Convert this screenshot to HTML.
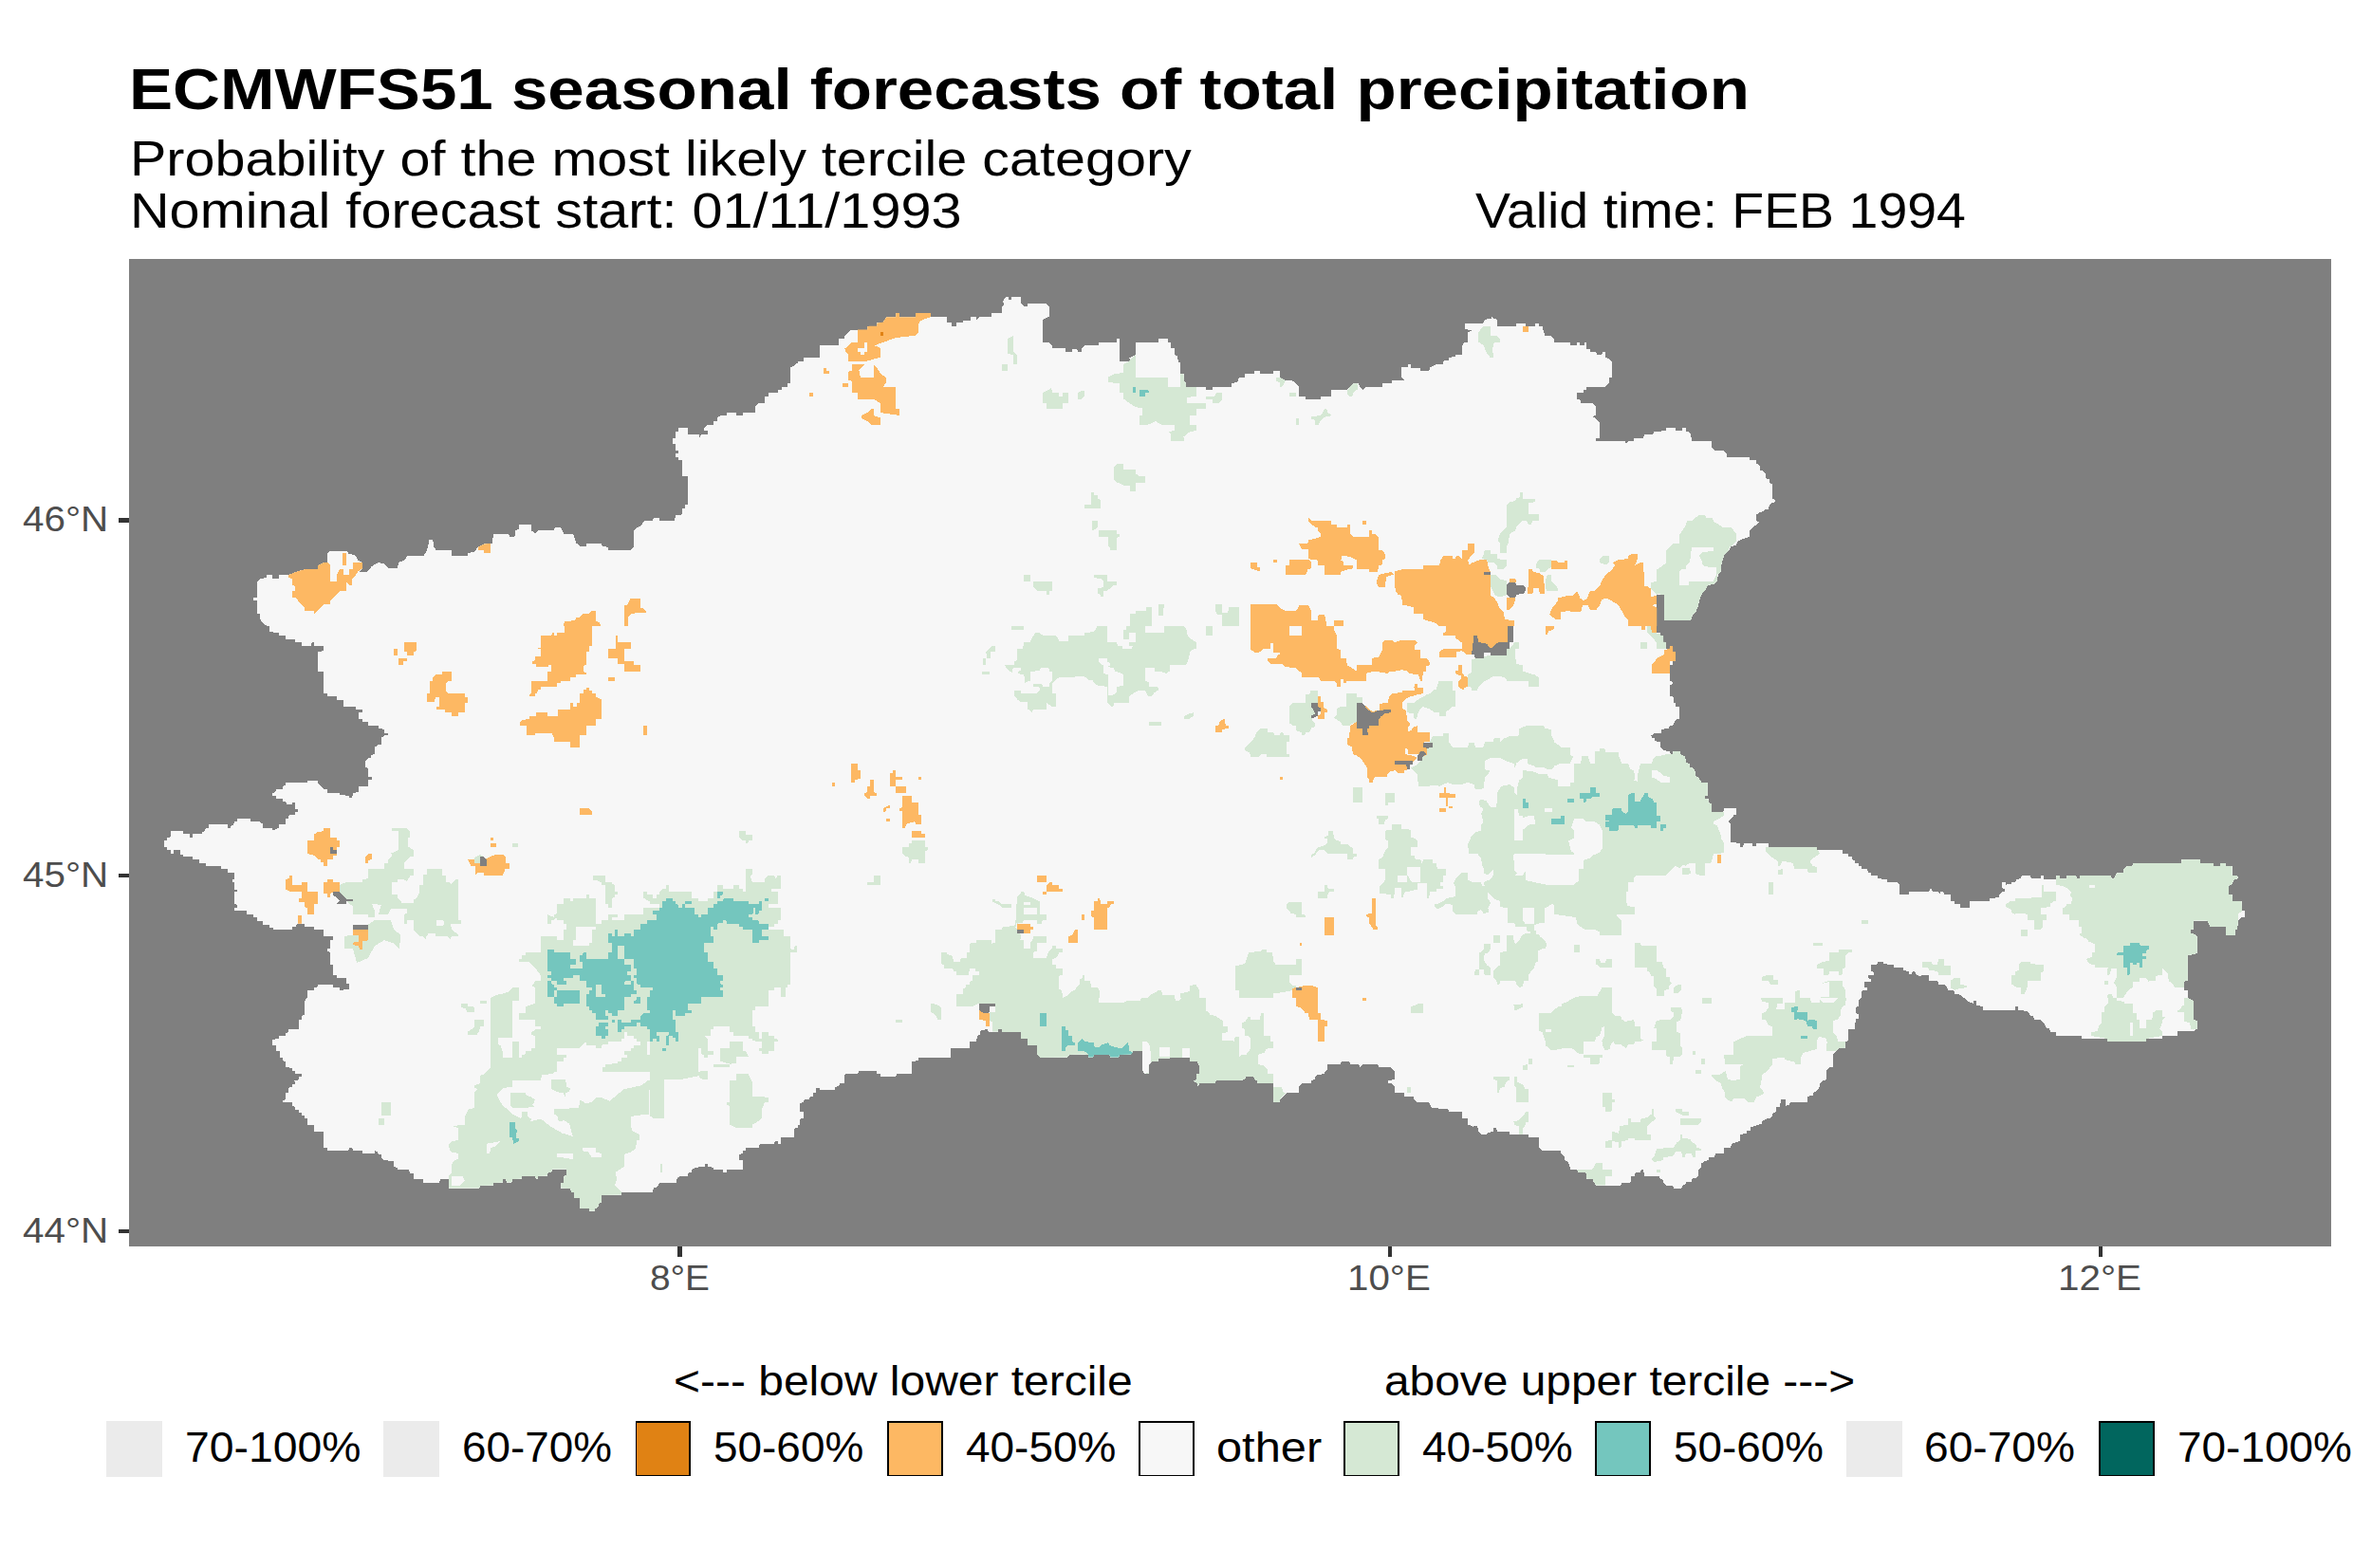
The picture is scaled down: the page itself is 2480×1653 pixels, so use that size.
<!DOCTYPE html>
<html><head><meta charset="utf-8"><style>
html,body{margin:0;padding:0;background:#fff;}
body{width:2480px;height:1653px;position:relative;overflow:hidden;font-family:"Liberation Sans",sans-serif;}
.t{position:absolute;white-space:nowrap;line-height:1;transform-origin:0 0;}
</style></head><body>
<svg width="2480" height="1653" viewBox="0 0 2480 1653" style="position:absolute;left:0;top:0" shape-rendering="crispEdges"><defs><clipPath id="m"><polygon points="281.2,660 277.5,656.8 274.2,653 274.2,646.8 271.2,646.8 271.2,633 267,633 267,630 271.2,630 271.2,613 271.2,613 274.2,610 281.2,609.2 281.2,606 287,606 287,609.5 294.2,609.5 294.2,606 304.2,606 311.2,603 321.2,600 335,600 335,596 341.2,593 345,593 345,583 348,580.5 365,580.5 367.5,583.5 375,586 377.5,590.5 382,593 382,599.2 378.8,602.5 387.5,602.5 392,596.8 398.8,593 405,594.2 409.5,599.2 418.8,599.2 420,593 426.2,590.5 429.5,586 446.2,586 450,580.5 452.5,569.2 456.2,569.2 457.5,576.8 459.5,580 475.8,580 476.2,586 493,586 493,583 500,581.8 503.8,576.8 510,573.5 518.8,572.5 520,563 536.2,563 537.5,565.5 542.5,565.5 543,559.2 547,558 547,553 560,553 560,559.2 564.5,562.5 567,559.2 583.8,559.2 585,556 591.2,556 594.5,562.5 604.2,563 607.5,572.5 611.2,576 617.5,576 618,573 633.8,573 635,576 641.2,576.8 641.2,580 665,580 668,576.8 668,559.2 671.2,556 675,555 678.8,549.2 688,548.5 688.8,546 695,546 695.5,548.5 711.2,548.5 712,542.5 718,542.5 718.8,541.9 718.8,536 721.9,536 721.9,531.8 724.9,531.8 724.9,502 718.8,502 718.8,484.9 715.2,484.7 715.2,482.1 711.9,481.8 711.9,478.5 715,478.3 715,475.2 711.9,475.2 711.9,468.1 709,468 709,461.9 711.9,461.8 711.9,454.9 715,454.7 715,451.1 724.9,451.1 718,450.5 725,450.5 725,457.5 736.8,457.5 736.8,461.8 739.2,458 745.5,457.5 745.5,454.2 742.2,454.2 742.2,451.2 745.5,447.5 751.8,447.5 752.2,444.2 756,444.2 756,440.5 759.2,438 766,438 766,435 775.5,435 776,438 783,438 783,435 796,435 796,428 800,425 806,425 806,418 810,418 810,414.2 820,414.2 820,411 823.5,411 823.5,408 830,408 830,404.2 833,404.2 833,387.5 836.8,385.5 840.5,382.5 840.5,380.5 847.2,380.5 847.2,376.8 864.2,376.8 864.2,363.8 884.2,363.8 884.2,356.8 890,356.8 890.5,354.2 894.2,350.5 897.5,347.5 904.2,347.5 914.2,347.5 914.2,343.8 924.2,343.8 924.2,340.5 930.5,339.8 934.2,334.2 944.2,334.2 944.2,330 948,330 948,334.2 965,334.2 965,330 981,330 981,334.2 997.5,334.2 998,340 1002.5,340.5 1002.5,343.8 1008,343.8 1008,340 1015,340 1015,337.5 1022.5,337.5 1022.5,334.2 1029.2,334.2 1029.2,336.8 1032.5,334.2 1045,334.2 1045,330 1056,330 1056,323 1058.5,320.5 1056.8,317.5 1060,313 1062.5,313 1062.5,316.8 1066.2,315.5 1066.2,313 1075.5,313 1076,319.2 1079.2,322.5 1083,322.5 1083,320 1102.5,320 1106,323 1106,333.5 1103,335 1099.2,336.8 1099.2,360.5 1105.5,361 1108.8,364.2 1108.8,366.8 1123,366.8 1123,370.5 1130,370.5 1130,367.5 1135,367.5 1136,370.5 1140,370.5 1140,367.5 1143,364.2 1157.5,364.2 1157.5,361 1176.8,361 1177.2,356.8 1180,356.8 1180,380.5 1190.5,380.5 1190.5,377.5 1196.8,374.2 1196.8,361 1221,361 1221,356.8 1230.5,356.8 1230.5,360.5 1233.5,361 1234.2,366.8 1238,367.5 1238.5,374.2 1241,375 1241.8,381.8 1244.2,381.8 1244.2,394.2 1247.5,394.2 1248,401 1250,404.2 1250.5,408 1271,408 1271,411 1277.5,411 1278,408 1297.5,408 1297.5,404.2 1304.2,403 1306,398 1306,398 1312.2,398 1312.2,394.2 1322.2,394.2 1322.2,391 1328,391 1328,394.2 1342.2,394.2 1342.2,391 1348.5,391 1349,398 1354.8,401 1361.5,401 1366,404.2 1369,408 1369,417.5 1376,418 1376.5,420.5 1391.8,420.5 1392.2,418 1403,417.5 1403,411 1419.8,411 1422.2,408 1426.5,404.2 1432.2,404.2 1433,408 1436,411 1439.8,408 1457.2,408 1457.2,404.2 1467.2,404.2 1467.2,401 1479.8,400.5 1477.2,397.5 1477.2,387.5 1483.5,386.8 1483.5,384.2 1486.5,384.2 1487.2,387.5 1497.2,387.5 1497.2,390.5 1506.5,390.5 1507.2,387.5 1514,384.2 1521,383.5 1521.5,380.5 1527.2,380 1527.2,376.8 1534,376 1534,373.5 1541,373.5 1541,364.2 1543.5,361 1547.2,360.5 1547.2,350.5 1550.5,348.5 1547.2,347.5 1544,346.8 1544,340.5 1563.5,340.5 1564.8,336.8 1571.5,336 1572.2,334.2 1574,336 1578,336.8 1578,343.8 1598,343.8 1598,340.5 1608,340.5 1608,343.8 1618,343.8 1618,340.5 1621.5,340.5 1622.2,343.8 1625.5,344.2 1628.5,354.2 1634.8,354.2 1638,358 1638.5,361 1654.8,361 1655.5,364.2 1661.5,364.2 1662.2,361 1664.8,361 1665.5,364.2 1669.8,364.2 1669.8,361 1672.2,361 1672.2,367.5 1675.5,367.5 1676.5,370.5 1682.2,370.5 1683,373.5 1688.5,373.5 1689.8,370.5 1692.2,371 1692.2,376.8 1695.5,378 1698.5,381 1699,398 1695.5,398 1695.5,404.2 1692.2,407.5 1672.2,407.5 1671.5,411 1668.5,411 1668.5,413.5 1662.2,414.2 1662.2,420.5 1665.5,421.8 1666,425 1678.5,425 1681.5,428 1681.5,438 1679,439.2 1682.2,441.8 1686,445 1686,461.8 1682.2,462.5 1682.2,465 1713,465 1714,468 1716,465 1722.2,465 1722.2,461.8 1732.2,461.8 1733,458 1742.2,457.5 1743,455 1756,454.2 1756.5,451 1765.5,451 1766,454.2 1773,454.2 1773,451 1776.5,451 1777.2,455 1780.5,455.5 1782.2,458.5 1783,465 1803.5,465 1804,471.8 1807.2,475 1816,475 1819.8,478.5 1820.5,481.8 1843.5,481.8 1844,485 1851,485.5 1851.5,488.5 1854.8,491.8 1854.8,495.5 1858,496 1860.5,499.2 1861.5,504.2 1864.8,505.5 1864.8,509.2 1868,510 1868.5,525.5 1870.5,526.8 1870.5,529.2 1867.2,530.5 1864.8,533 1864,536.8 1861,536.8 1858.5,539.2 1854.8,540 1851.5,542.5 1851,549.2 1854,550 1851.5,553 1847.2,556 1844,559.2 1843.5,566 1841,566.8 1834,569.2 1831,571.8 1829.8,575 1824.8,576 1821,581.8 1817.2,585.5 1816,589.2 1814.8,593 1813.5,603 1811,605.5 1809.8,612.5 1806,616 1800.5,616.8 1797.2,622.5 1794,626 1791,633 1789.8,639.2 1787.2,645.5 1784,648 1782.25,654.25 1780,654 1750,654 1750,627 1746.4,627 1746.4,667.1 1750,667.1 1750,669.7 1753.1,670.2 1753.1,676.8 1755.9,677.1 1755.9,684 1759.7,684 1760.2,680.9 1763.1,680.9 1763.1,687 1766.1,687 1766.1,696.7 1763.3,697.3 1763.1,701.3 1760.2,701.3 1760.2,718 1763,718.8 1763,721.2 1759.8,722 1759.8,733.8 1763.5,734.5 1763.5,740.5 1766,741.2 1766.5,745 1769.8,745.5 1769.8,758 1766,758.8 1763,765 1759.8,765 1759,768 1750.5,768.8 1750.5,772.5 1743.5,773 1740.5,775.5 1740.5,777.5 1743.5,778 1744,781.2 1749.8,782 1750.5,787.5 1753.5,791.2 1759.8,792 1760.5,794.5 1763,795 1763.5,792 1770.5,792 1771.5,795 1776,797.5 1777.2,803.8 1780.5,805 1781,808.8 1784,809.5 1786.5,812.5 1787.2,818 1790.5,820 1793.5,824.5 1799.8,825 1799.8,838.8 1797.2,839.5 1797.2,842 1800.5,842.5 1801,846.2 1804,847 1804,855.5 1816.5,855.5 1817.2,852 1829.8,852 1829.8,858.8 1827.2,859.5 1824.8,863 1821,866.2 1824,868 1824,888 1834,888.8 1834,892.5 1837.2,892.5 1838,888.8 1846.5,888.8 1847.2,892.5 1850.5,892 1851,888.8 1863.5,888.8 1864,892.5 1894,892.5 1892,892.5 1915,893 1915,895.5 1941.5,896.2 1942,899.5 1947.5,900 1948.2,902.5 1952,903 1952,906.2 1955,907 1955,909.5 1959,910 1959.5,912.5 1962,913 1962.5,915.5 1968.2,916.2 1969,919.5 1972,920 1972.5,922.5 1979,923 1979.5,926.2 1989,927 1989.5,929.5 1999,930 2002,933 2002,942.5 2012,942.5 2012.5,939.5 2033.2,939.5 2034,937 2035.8,937 2036.5,939.5 2043.2,940 2044,942.5 2045.8,940 2048.2,940 2049,942.5 2055.8,943 2056.5,950 2060,950.5 2060,953 2065.8,953 2066.5,957 2075.8,957 2076.5,950 2097,949.5 2097.5,947 2107,946.2 2107.5,942.5 2110,940 2113.2,939.5 2113.2,937 2110,936.2 2110,930 2114,930 2114.5,932.5 2120,932 2120,929.5 2124.5,929.5 2125,927 2130,926.2 2130.8,923 2140,923 2140.8,926.2 2150.8,926.2 2151.5,923 2154,923 2154.5,927 2167,927 2167.5,923 2170.8,923 2171.5,926.2 2178.2,926.2 2178.2,923 2188.2,923 2189,925.5 2191.5,925.5 2191.5,923 2225,923 2225.8,926.2 2228.2,925.5 2230.8,920.5 2238.2,920 2238.2,916.2 2242,913 2247.5,912.5 2248.2,910 2299,910 2299.5,906.2 2319,906.2 2319,909.5 2333.2,910 2333.2,912.5 2339.5,912.5 2339.5,910 2345.8,910 2345.8,913 2352.5,913 2352.5,922.5 2358.2,923 2359,926.2 2355.8,927 2353.2,930 2352,933 2349,933.8 2349,942.5 2352.5,943 2353.2,950 2362.5,950 2363.2,960 2365.8,960.5 2365.8,967 2362,967.5 2359,970.5 2358.2,980 2355.8,980.5 2355.8,986.2 2345.8,986.2 2345.8,977.5 2329,977 2328.2,973.8 2325.8,970.5 2312,970.5 2312,979.5 2309,980 2309.5,983.8 2312.5,984.5 2315.8,987.5 2315.8,1004.5 2312,1006.2 2305.8,1007 2305.8,1033.8 2302.5,1034.5 2302,1043.8 2305.8,1044.5 2305.8,1052 2305.8,1052 2312,1055 2312,1075 2315.8,1075.8 2315.8,1084.5 2312,1087 2295,1087.5 2294.5,1091.5 2279,1092 2279,1094.5 2262,1095 2262,1098.2 2220.8,1098.2 2220.8,1095 2194,1094.5 2194,1091.5 2167,1091.5 2167,1088.2 2160.8,1087.5 2160,1084.5 2157,1084 2154,1078.2 2150.8,1075 2144,1074.5 2143.2,1071.5 2140,1070.8 2137,1065.8 2127,1065 2126.5,1060.8 2124.5,1060.8 2124,1064.5 2090,1064.5 2089.5,1060.8 2083.2,1060 2082.5,1055 2080,1055 2079.5,1057.5 2076.5,1057 2072.5,1054.5 2070,1052 2069.5,1052 2066.5,1048.8 2060,1047.5 2059.5,1044.5 2053.2,1043.8 2052,1040.5 2049,1038 2043.2,1037.5 2042.5,1034.5 2033.2,1033.8 2032.5,1028 2025.8,1027.5 2025,1029.5 2022,1028.8 2019,1026.2 2018.2,1023.8 2015.8,1023.8 2015,1027.5 2012,1027 2011.5,1023.8 2005.8,1023 2005.8,1020.5 1996.5,1020 1995.8,1017 1985,1016.2 1984.5,1013.8 1979,1013.8 1978.2,1017 1972,1017.5 1972,1023.8 1974.5,1024.5 1974.5,1027.5 1969.5,1028 1969,1031.2 1971.5,1032 1971.5,1034.5 1965,1034.5 1965,1040.5 1968.2,1041.2 1968.2,1043.8 1962.5,1044.5 1962,1052 1962,1052 1959,1054.5 1959,1060.8 1955.8,1062 1955.8,1068.2 1959,1069 1959,1074 1955.8,1074.5 1955,1084.5 1948.2,1085 1947.5,1097.5 1945,1098.2 1944.5,1105 1938.2,1105 1935,1108.2 1932,1112 1932,1124.5 1928.2,1125 1925,1129 1925,1138.2 1921.5,1139 1918.2,1142 1917.5,1146.5 1915,1149.5 1911.5,1152 1910.8,1155 1905,1155.8 1905,1161.5 1892,1162 1894,1162 1887.2,1162 1886,1164.5 1882.2,1165.8 1881.5,1159 1877.2,1159 1876,1166.5 1872.2,1167.5 1871.5,1172 1868,1174.5 1867.2,1178.2 1863.5,1179 1857.2,1182 1856.5,1185 1852.2,1185.8 1849.8,1187 1845.5,1188.2 1844.8,1191.5 1841.5,1192 1841,1195 1834,1195.8 1833.5,1203.2 1827.2,1205 1824.8,1206.5 1824,1209.5 1817.2,1210 1816.5,1215.8 1808,1216.5 1807.2,1219.5 1801,1220 1800.5,1223.2 1797.2,1224 1793.5,1226.5 1793,1230 1790.5,1232.5 1789.8,1239.5 1787.2,1242 1783.5,1242.5 1783,1245.8 1777.2,1246.5 1776.5,1248.2 1773,1250 1772.2,1252.5 1764,1252.5 1763,1250 1756,1249.5 1753.5,1247 1753,1244 1749.8,1242.5 1748.5,1240 1733,1240 1732.2,1233.2 1729.8,1233.2 1729,1235.8 1723.5,1236.5 1723,1239.5 1719,1240 1718.5,1246.5 1709,1247 1708.5,1249.5 1682.2,1249.5 1679.8,1246.5 1678.5,1243.2 1672.2,1242.5 1671.5,1236.5 1663,1235.8 1662.2,1233.2 1655.5,1232.5 1652.2,1224 1649,1223.2 1648.5,1219 1645.5,1215.8 1644.8,1213.2 1625.5,1212.5 1622.2,1210 1621.5,1199.5 1611,1199 1610.5,1195.8 1591.5,1195.8 1591,1193.2 1578,1193.2 1577.2,1189 1574,1189.5 1573.5,1193.2 1568,1194 1567.2,1195.8 1561,1195.8 1558,1192 1557.2,1186.5 1554,1186.5 1552.2,1188.2 1550.5,1186.5 1547.2,1185.8 1546.5,1179.5 1541,1179 1540.5,1172 1527.2,1172 1526,1169 1509.8,1168.2 1507.2,1165 1506,1162 1493.5,1162 1490.5,1159 1489.8,1156.5 1480.5,1155.8 1479.8,1152.5 1469.8,1152 1469.8,1145.8 1466.5,1142.5 1463,1141.5 1463,1139 1469.8,1138.2 1469.8,1129 1466,1125 1453.5,1125 1452.2,1122 1436,1122 1433.5,1125 1432.2,1122.5 1423,1122 1422.2,1119 1414,1119 1413,1122 1399,1122.5 1399,1127.5 1396.5,1129.5 1395.5,1132 1389,1133.2 1386,1135 1385.5,1138.2 1382.2,1139 1381.5,1142 1372.2,1142.5 1369,1145.8 1368.5,1152 1355.5,1152.5 1352.2,1156.5 1349.8,1158.2 1348.5,1162 1342.2,1162 1341.5,1142 1325.5,1142 1324.8,1139.5 1322.2,1138.2 1321,1135 1313,1135 1312.2,1138.2 1306,1139 1306,1139 1281.8,1139.5 1281,1142 1264.2,1142.5 1262.5,1145 1261.8,1142.5 1258,1139.5 1260.5,1138.2 1261,1132.5 1263.5,1131.5 1263.5,1122.5 1261.8,1119.5 1254.2,1119 1253.5,1115 1221,1115.8 1220.5,1119 1214.2,1119.5 1211,1122.5 1210.5,1132 1206.8,1132 1204.2,1129 1203.5,1108.2 1194.2,1108.2 1192.5,1111.5 1180,1112 1179.2,1114.5 1170.5,1114.5 1169.2,1112 1153,1112 1152.5,1114.5 1147.5,1114.5 1146.8,1112.5 1143,1111.5 1126.8,1112 1125.5,1114.5 1096,1115 1093,1111.5 1092.5,1102 1083,1102 1082.5,1095 1076,1095 1075.5,1088.2 1056,1088.2 1055.5,1085 1052.5,1085 1051.8,1087.5 1041.8,1087.5 1041,1085 1035.5,1085.8 1033,1087.5 1032.5,1090.8 1030,1092 1029.2,1097.5 1022.5,1098.2 1021.8,1104.5 1002.5,1105 1001.8,1114.5 968.5,1115 968,1118.2 961,1119 961,1132 945,1132.5 944.2,1135 928.5,1135 928,1132.5 924.2,1132 923.5,1129 905,1129 904.2,1132 890.5,1132.5 890,1141.5 885,1142 884.2,1145 880.5,1145.8 880,1149 864.2,1149 863.5,1146.5 860.5,1146.5 860,1151.5 857.5,1152 856.8,1155.8 853.5,1156.5 853,1159 847.5,1159.5 846.8,1162 843,1163.2 843,1172 846.8,1172.5 846.8,1179 843.5,1179.5 843,1185.8 841,1185.8 840.5,1189 837.5,1189.5 836.8,1199 823.5,1199 823,1205.8 820.5,1205.8 820,1203.2 816.8,1203.2 816,1205.8 800.5,1206.5 800,1209.5 786,1210 786,1212.5 783,1213.2 782.5,1215.8 779.2,1217 779.2,1222.5 783,1223.2 783,1232.5 766,1233.2 765.5,1235.8 762.5,1235.8 761.8,1232.5 752.5,1232.5 751.8,1230.8 746,1230 745.5,1226.5 743,1226.5 742.5,1230 732.5,1230.8 729.2,1233.2 729.2,1235.8 725.5,1236.5 725,1239.5 718,1240 718,1240 715,1240.8 713,1243.2 712.5,1247 695.5,1247 692.5,1251.5 688.8,1252 688,1256.5 655.5,1257 655,1259.5 634.5,1260 633.8,1267.5 631.2,1269.5 630,1273.2 627.5,1274 627,1276.5 621.2,1276.5 620.5,1274 611.2,1274 610.5,1263.2 605,1263.2 604.5,1257.5 602,1257 601.2,1253.2 591.2,1252.5 591.2,1247 593.8,1246.5 594.5,1239.5 597,1239 597,1232.5 582,1232.5 581.2,1235.8 577.5,1236.5 577,1239.5 567.5,1240 567,1242.5 564.5,1242.5 563.8,1240 550.5,1240 550,1242.5 540,1243.2 539.5,1246.5 533.8,1246.5 533,1243.2 530.5,1243.2 530,1246.5 520.5,1247 520,1249.5 506.2,1250 505.5,1252.5 473,1252.5 472.5,1243.2 463.8,1243.2 463,1247 446.2,1247 445.5,1243.2 436.2,1243.2 435.5,1237 432,1236.5 431.2,1233.2 419.5,1233.2 418.8,1230.8 415,1230 414.5,1224 405,1223.2 402.5,1220.8 402,1217.5 398.8,1217 398,1214 395.5,1213.2 395,1215.8 382.5,1215.8 382,1213.2 372,1213.2 371.2,1210 368,1210 367.5,1212.5 345.5,1212.5 345,1210 341.2,1209.5 340.5,1193.2 331.2,1192.5 331.2,1186.5 324.5,1185.8 323.8,1179.5 321.2,1179 321.2,1176.5 318,1175.8 318,1173.2 315,1172.5 314.5,1170 311.2,1169.5 310.5,1166.5 308,1165.8 307.5,1162.5 298,1162 298,1160 301.2,1159 301.2,1152 303.8,1151.5 304.5,1146.5 307.5,1145.8 307.5,1143.2 310.5,1142.5 310.5,1139.5 314.5,1138.2 314.5,1135.8 318,1134.5 318,1132.5 311.2,1132 310.5,1129.5 308,1129 307.5,1125.8 301.2,1125 301.2,1119 298,1118.2 298,1115 294.5,1114.5 294.5,1108.2 291.2,1107.5 291.2,1102 287,1101.5 287,1095.8 293.8,1095 294.5,1092 301.2,1091.5 301.2,1089 303.8,1088.2 304.5,1085 314.5,1084.5 314.5,1075 318,1074.5 318,1070.8 321.2,1070 321.2,1055 323.8,1052 323.8,1052 324.5,1043.8 331.2,1043.8 331.2,1041.2 334.5,1040.5 335,1038 350.5,1038 350.5,1040.5 358,1040.5 358,1043.8 368,1043 368,1037.5 365,1037 365,1030.5 355,1030.5 355,1028 351.2,1027.5 350.5,1017.5 347.5,1017 347.5,1003.8 345,1003 345,1000.5 347.5,1000 347.5,991.2 350.5,990.5 350.5,987 341.2,987 341.2,980.5 331.2,980 331.2,977 321.2,977 321.2,973.8 313.8,973.8 311.2,977 308,977 308,980 287.5,980 287.5,978 283.8,977.5 283.8,974.5 277,974.5 277,970.5 271.2,970.5 271.2,967.5 267.5,967 267,963.8 260,963.8 260,960 247,960 247,957.5 249.5,957 249.5,953.8 247,953 247,940 249.5,939.5 249.5,938 247,937.5 247,930 244.5,929.5 244.5,927.5 247,927 247,920 240,919.5 240,916.2 233,915.5 232.5,913 217,913 217,910 210,909.5 210,906.2 203,906.2 202.5,902.5 193,902.5 193,901.2 190,900.5 189.5,896.2 183,896.2 183,899.5 180,899.5 180,896.2 176.2,895.5 176.2,893 173,892.5 173,886.2 176.2,886.2 176.2,883 179.5,882.5 180,876.2 192.5,876.2 192.5,878.8 199.5,879.2 200,882.5 202.5,882.5 202.5,878.8 212.5,878.8 212.5,877 216.2,876.2 216.2,873.8 220,872.5 220,868.8 240,868.8 240,872.5 243,872.5 243.8,870 246.2,870 247,866.2 250,866.2 250,863 263.8,863 263.8,865.5 273.8,866.2 277,868.8 277.5,872.5 287,872.5 287,875.5 290,874.5 293.8,872.5 294.5,868.8 301.2,868.8 301.2,863 303.8,863 304.5,859.5 310.5,858.8 310.5,856.2 313.8,856.2 313.8,853 311.2,852.5 310.5,846.2 308,845.5 308,848 302,848 301.2,845.5 298,845 297.5,842 291.2,842 291.2,838.8 287,838.8 287,836.2 290,835 291.2,832 298,832 298,828.8 301.2,828 301.2,825 323.8,825 324.5,822.5 335,822.5 335,825 338,828.8 341.2,832 345,832.5 345,836.2 358,836.2 358,838 368,838.8 368,841.2 371.2,841.2 372,836.2 378,835 378,828.8 388,828.8 388,822 392,822 392,819.5 388,818.8 387.5,809.5 385,808.8 385,802 387.5,799.5 391.2,798.8 391.2,796.2 395,795 395,787.5 398.8,785 402,785 402,777.5 405,775.5 408.8,775 408.8,773 405,772.5 405,768.8 398.8,768 398.8,765 387.5,765 387.5,761.2 382,761.2 382,758 378,757.5 378,751.2 382,750.5 382,748 375,747.5 375,745 362,745 362,737.5 355,737.5 355,733.8 345.5,733.8 345,731.2 341.2,731.2 341.2,708 335,708 335,687 341.2,686.2 341.2,681.2 331.2,681.2 331.2,677 328.8,677 328,680.5 318,680.5 318,677 311.2,677 310.5,673.8 301.2,673.8 301.2,670 294.5,670 293.8,667 283.8,666.2 283.8,660"/></clipPath></defs><rect x="136" y="273" width="2321" height="1041" fill="#7F7F7F"/><polygon points="281.2,660 277.5,656.8 274.2,653 274.2,646.8 271.2,646.8 271.2,633 267,633 267,630 271.2,630 271.2,613 271.2,613 274.2,610 281.2,609.2 281.2,606 287,606 287,609.5 294.2,609.5 294.2,606 304.2,606 311.2,603 321.2,600 335,600 335,596 341.2,593 345,593 345,583 348,580.5 365,580.5 367.5,583.5 375,586 377.5,590.5 382,593 382,599.2 378.8,602.5 387.5,602.5 392,596.8 398.8,593 405,594.2 409.5,599.2 418.8,599.2 420,593 426.2,590.5 429.5,586 446.2,586 450,580.5 452.5,569.2 456.2,569.2 457.5,576.8 459.5,580 475.8,580 476.2,586 493,586 493,583 500,581.8 503.8,576.8 510,573.5 518.8,572.5 520,563 536.2,563 537.5,565.5 542.5,565.5 543,559.2 547,558 547,553 560,553 560,559.2 564.5,562.5 567,559.2 583.8,559.2 585,556 591.2,556 594.5,562.5 604.2,563 607.5,572.5 611.2,576 617.5,576 618,573 633.8,573 635,576 641.2,576.8 641.2,580 665,580 668,576.8 668,559.2 671.2,556 675,555 678.8,549.2 688,548.5 688.8,546 695,546 695.5,548.5 711.2,548.5 712,542.5 718,542.5 718.8,541.9 718.8,536 721.9,536 721.9,531.8 724.9,531.8 724.9,502 718.8,502 718.8,484.9 715.2,484.7 715.2,482.1 711.9,481.8 711.9,478.5 715,478.3 715,475.2 711.9,475.2 711.9,468.1 709,468 709,461.9 711.9,461.8 711.9,454.9 715,454.7 715,451.1 724.9,451.1 718,450.5 725,450.5 725,457.5 736.8,457.5 736.8,461.8 739.2,458 745.5,457.5 745.5,454.2 742.2,454.2 742.2,451.2 745.5,447.5 751.8,447.5 752.2,444.2 756,444.2 756,440.5 759.2,438 766,438 766,435 775.5,435 776,438 783,438 783,435 796,435 796,428 800,425 806,425 806,418 810,418 810,414.2 820,414.2 820,411 823.5,411 823.5,408 830,408 830,404.2 833,404.2 833,387.5 836.8,385.5 840.5,382.5 840.5,380.5 847.2,380.5 847.2,376.8 864.2,376.8 864.2,363.8 884.2,363.8 884.2,356.8 890,356.8 890.5,354.2 894.2,350.5 897.5,347.5 904.2,347.5 914.2,347.5 914.2,343.8 924.2,343.8 924.2,340.5 930.5,339.8 934.2,334.2 944.2,334.2 944.2,330 948,330 948,334.2 965,334.2 965,330 981,330 981,334.2 997.5,334.2 998,340 1002.5,340.5 1002.5,343.8 1008,343.8 1008,340 1015,340 1015,337.5 1022.5,337.5 1022.5,334.2 1029.2,334.2 1029.2,336.8 1032.5,334.2 1045,334.2 1045,330 1056,330 1056,323 1058.5,320.5 1056.8,317.5 1060,313 1062.5,313 1062.5,316.8 1066.2,315.5 1066.2,313 1075.5,313 1076,319.2 1079.2,322.5 1083,322.5 1083,320 1102.5,320 1106,323 1106,333.5 1103,335 1099.2,336.8 1099.2,360.5 1105.5,361 1108.8,364.2 1108.8,366.8 1123,366.8 1123,370.5 1130,370.5 1130,367.5 1135,367.5 1136,370.5 1140,370.5 1140,367.5 1143,364.2 1157.5,364.2 1157.5,361 1176.8,361 1177.2,356.8 1180,356.8 1180,380.5 1190.5,380.5 1190.5,377.5 1196.8,374.2 1196.8,361 1221,361 1221,356.8 1230.5,356.8 1230.5,360.5 1233.5,361 1234.2,366.8 1238,367.5 1238.5,374.2 1241,375 1241.8,381.8 1244.2,381.8 1244.2,394.2 1247.5,394.2 1248,401 1250,404.2 1250.5,408 1271,408 1271,411 1277.5,411 1278,408 1297.5,408 1297.5,404.2 1304.2,403 1306,398 1306,398 1312.2,398 1312.2,394.2 1322.2,394.2 1322.2,391 1328,391 1328,394.2 1342.2,394.2 1342.2,391 1348.5,391 1349,398 1354.8,401 1361.5,401 1366,404.2 1369,408 1369,417.5 1376,418 1376.5,420.5 1391.8,420.5 1392.2,418 1403,417.5 1403,411 1419.8,411 1422.2,408 1426.5,404.2 1432.2,404.2 1433,408 1436,411 1439.8,408 1457.2,408 1457.2,404.2 1467.2,404.2 1467.2,401 1479.8,400.5 1477.2,397.5 1477.2,387.5 1483.5,386.8 1483.5,384.2 1486.5,384.2 1487.2,387.5 1497.2,387.5 1497.2,390.5 1506.5,390.5 1507.2,387.5 1514,384.2 1521,383.5 1521.5,380.5 1527.2,380 1527.2,376.8 1534,376 1534,373.5 1541,373.5 1541,364.2 1543.5,361 1547.2,360.5 1547.2,350.5 1550.5,348.5 1547.2,347.5 1544,346.8 1544,340.5 1563.5,340.5 1564.8,336.8 1571.5,336 1572.2,334.2 1574,336 1578,336.8 1578,343.8 1598,343.8 1598,340.5 1608,340.5 1608,343.8 1618,343.8 1618,340.5 1621.5,340.5 1622.2,343.8 1625.5,344.2 1628.5,354.2 1634.8,354.2 1638,358 1638.5,361 1654.8,361 1655.5,364.2 1661.5,364.2 1662.2,361 1664.8,361 1665.5,364.2 1669.8,364.2 1669.8,361 1672.2,361 1672.2,367.5 1675.5,367.5 1676.5,370.5 1682.2,370.5 1683,373.5 1688.5,373.5 1689.8,370.5 1692.2,371 1692.2,376.8 1695.5,378 1698.5,381 1699,398 1695.5,398 1695.5,404.2 1692.2,407.5 1672.2,407.5 1671.5,411 1668.5,411 1668.5,413.5 1662.2,414.2 1662.2,420.5 1665.5,421.8 1666,425 1678.5,425 1681.5,428 1681.5,438 1679,439.2 1682.2,441.8 1686,445 1686,461.8 1682.2,462.5 1682.2,465 1713,465 1714,468 1716,465 1722.2,465 1722.2,461.8 1732.2,461.8 1733,458 1742.2,457.5 1743,455 1756,454.2 1756.5,451 1765.5,451 1766,454.2 1773,454.2 1773,451 1776.5,451 1777.2,455 1780.5,455.5 1782.2,458.5 1783,465 1803.5,465 1804,471.8 1807.2,475 1816,475 1819.8,478.5 1820.5,481.8 1843.5,481.8 1844,485 1851,485.5 1851.5,488.5 1854.8,491.8 1854.8,495.5 1858,496 1860.5,499.2 1861.5,504.2 1864.8,505.5 1864.8,509.2 1868,510 1868.5,525.5 1870.5,526.8 1870.5,529.2 1867.2,530.5 1864.8,533 1864,536.8 1861,536.8 1858.5,539.2 1854.8,540 1851.5,542.5 1851,549.2 1854,550 1851.5,553 1847.2,556 1844,559.2 1843.5,566 1841,566.8 1834,569.2 1831,571.8 1829.8,575 1824.8,576 1821,581.8 1817.2,585.5 1816,589.2 1814.8,593 1813.5,603 1811,605.5 1809.8,612.5 1806,616 1800.5,616.8 1797.2,622.5 1794,626 1791,633 1789.8,639.2 1787.2,645.5 1784,648 1782.25,654.25 1780,654 1750,654 1750,627 1746.4,627 1746.4,667.1 1750,667.1 1750,669.7 1753.1,670.2 1753.1,676.8 1755.9,677.1 1755.9,684 1759.7,684 1760.2,680.9 1763.1,680.9 1763.1,687 1766.1,687 1766.1,696.7 1763.3,697.3 1763.1,701.3 1760.2,701.3 1760.2,718 1763,718.8 1763,721.2 1759.8,722 1759.8,733.8 1763.5,734.5 1763.5,740.5 1766,741.2 1766.5,745 1769.8,745.5 1769.8,758 1766,758.8 1763,765 1759.8,765 1759,768 1750.5,768.8 1750.5,772.5 1743.5,773 1740.5,775.5 1740.5,777.5 1743.5,778 1744,781.2 1749.8,782 1750.5,787.5 1753.5,791.2 1759.8,792 1760.5,794.5 1763,795 1763.5,792 1770.5,792 1771.5,795 1776,797.5 1777.2,803.8 1780.5,805 1781,808.8 1784,809.5 1786.5,812.5 1787.2,818 1790.5,820 1793.5,824.5 1799.8,825 1799.8,838.8 1797.2,839.5 1797.2,842 1800.5,842.5 1801,846.2 1804,847 1804,855.5 1816.5,855.5 1817.2,852 1829.8,852 1829.8,858.8 1827.2,859.5 1824.8,863 1821,866.2 1824,868 1824,888 1834,888.8 1834,892.5 1837.2,892.5 1838,888.8 1846.5,888.8 1847.2,892.5 1850.5,892 1851,888.8 1863.5,888.8 1864,892.5 1894,892.5 1892,892.5 1915,893 1915,895.5 1941.5,896.2 1942,899.5 1947.5,900 1948.2,902.5 1952,903 1952,906.2 1955,907 1955,909.5 1959,910 1959.5,912.5 1962,913 1962.5,915.5 1968.2,916.2 1969,919.5 1972,920 1972.5,922.5 1979,923 1979.5,926.2 1989,927 1989.5,929.5 1999,930 2002,933 2002,942.5 2012,942.5 2012.5,939.5 2033.2,939.5 2034,937 2035.8,937 2036.5,939.5 2043.2,940 2044,942.5 2045.8,940 2048.2,940 2049,942.5 2055.8,943 2056.5,950 2060,950.5 2060,953 2065.8,953 2066.5,957 2075.8,957 2076.5,950 2097,949.5 2097.5,947 2107,946.2 2107.5,942.5 2110,940 2113.2,939.5 2113.2,937 2110,936.2 2110,930 2114,930 2114.5,932.5 2120,932 2120,929.5 2124.5,929.5 2125,927 2130,926.2 2130.8,923 2140,923 2140.8,926.2 2150.8,926.2 2151.5,923 2154,923 2154.5,927 2167,927 2167.5,923 2170.8,923 2171.5,926.2 2178.2,926.2 2178.2,923 2188.2,923 2189,925.5 2191.5,925.5 2191.5,923 2225,923 2225.8,926.2 2228.2,925.5 2230.8,920.5 2238.2,920 2238.2,916.2 2242,913 2247.5,912.5 2248.2,910 2299,910 2299.5,906.2 2319,906.2 2319,909.5 2333.2,910 2333.2,912.5 2339.5,912.5 2339.5,910 2345.8,910 2345.8,913 2352.5,913 2352.5,922.5 2358.2,923 2359,926.2 2355.8,927 2353.2,930 2352,933 2349,933.8 2349,942.5 2352.5,943 2353.2,950 2362.5,950 2363.2,960 2365.8,960.5 2365.8,967 2362,967.5 2359,970.5 2358.2,980 2355.8,980.5 2355.8,986.2 2345.8,986.2 2345.8,977.5 2329,977 2328.2,973.8 2325.8,970.5 2312,970.5 2312,979.5 2309,980 2309.5,983.8 2312.5,984.5 2315.8,987.5 2315.8,1004.5 2312,1006.2 2305.8,1007 2305.8,1033.8 2302.5,1034.5 2302,1043.8 2305.8,1044.5 2305.8,1052 2305.8,1052 2312,1055 2312,1075 2315.8,1075.8 2315.8,1084.5 2312,1087 2295,1087.5 2294.5,1091.5 2279,1092 2279,1094.5 2262,1095 2262,1098.2 2220.8,1098.2 2220.8,1095 2194,1094.5 2194,1091.5 2167,1091.5 2167,1088.2 2160.8,1087.5 2160,1084.5 2157,1084 2154,1078.2 2150.8,1075 2144,1074.5 2143.2,1071.5 2140,1070.8 2137,1065.8 2127,1065 2126.5,1060.8 2124.5,1060.8 2124,1064.5 2090,1064.5 2089.5,1060.8 2083.2,1060 2082.5,1055 2080,1055 2079.5,1057.5 2076.5,1057 2072.5,1054.5 2070,1052 2069.5,1052 2066.5,1048.8 2060,1047.5 2059.5,1044.5 2053.2,1043.8 2052,1040.5 2049,1038 2043.2,1037.5 2042.5,1034.5 2033.2,1033.8 2032.5,1028 2025.8,1027.5 2025,1029.5 2022,1028.8 2019,1026.2 2018.2,1023.8 2015.8,1023.8 2015,1027.5 2012,1027 2011.5,1023.8 2005.8,1023 2005.8,1020.5 1996.5,1020 1995.8,1017 1985,1016.2 1984.5,1013.8 1979,1013.8 1978.2,1017 1972,1017.5 1972,1023.8 1974.5,1024.5 1974.5,1027.5 1969.5,1028 1969,1031.2 1971.5,1032 1971.5,1034.5 1965,1034.5 1965,1040.5 1968.2,1041.2 1968.2,1043.8 1962.5,1044.5 1962,1052 1962,1052 1959,1054.5 1959,1060.8 1955.8,1062 1955.8,1068.2 1959,1069 1959,1074 1955.8,1074.5 1955,1084.5 1948.2,1085 1947.5,1097.5 1945,1098.2 1944.5,1105 1938.2,1105 1935,1108.2 1932,1112 1932,1124.5 1928.2,1125 1925,1129 1925,1138.2 1921.5,1139 1918.2,1142 1917.5,1146.5 1915,1149.5 1911.5,1152 1910.8,1155 1905,1155.8 1905,1161.5 1892,1162 1894,1162 1887.2,1162 1886,1164.5 1882.2,1165.8 1881.5,1159 1877.2,1159 1876,1166.5 1872.2,1167.5 1871.5,1172 1868,1174.5 1867.2,1178.2 1863.5,1179 1857.2,1182 1856.5,1185 1852.2,1185.8 1849.8,1187 1845.5,1188.2 1844.8,1191.5 1841.5,1192 1841,1195 1834,1195.8 1833.5,1203.2 1827.2,1205 1824.8,1206.5 1824,1209.5 1817.2,1210 1816.5,1215.8 1808,1216.5 1807.2,1219.5 1801,1220 1800.5,1223.2 1797.2,1224 1793.5,1226.5 1793,1230 1790.5,1232.5 1789.8,1239.5 1787.2,1242 1783.5,1242.5 1783,1245.8 1777.2,1246.5 1776.5,1248.2 1773,1250 1772.2,1252.5 1764,1252.5 1763,1250 1756,1249.5 1753.5,1247 1753,1244 1749.8,1242.5 1748.5,1240 1733,1240 1732.2,1233.2 1729.8,1233.2 1729,1235.8 1723.5,1236.5 1723,1239.5 1719,1240 1718.5,1246.5 1709,1247 1708.5,1249.5 1682.2,1249.5 1679.8,1246.5 1678.5,1243.2 1672.2,1242.5 1671.5,1236.5 1663,1235.8 1662.2,1233.2 1655.5,1232.5 1652.2,1224 1649,1223.2 1648.5,1219 1645.5,1215.8 1644.8,1213.2 1625.5,1212.5 1622.2,1210 1621.5,1199.5 1611,1199 1610.5,1195.8 1591.5,1195.8 1591,1193.2 1578,1193.2 1577.2,1189 1574,1189.5 1573.5,1193.2 1568,1194 1567.2,1195.8 1561,1195.8 1558,1192 1557.2,1186.5 1554,1186.5 1552.2,1188.2 1550.5,1186.5 1547.2,1185.8 1546.5,1179.5 1541,1179 1540.5,1172 1527.2,1172 1526,1169 1509.8,1168.2 1507.2,1165 1506,1162 1493.5,1162 1490.5,1159 1489.8,1156.5 1480.5,1155.8 1479.8,1152.5 1469.8,1152 1469.8,1145.8 1466.5,1142.5 1463,1141.5 1463,1139 1469.8,1138.2 1469.8,1129 1466,1125 1453.5,1125 1452.2,1122 1436,1122 1433.5,1125 1432.2,1122.5 1423,1122 1422.2,1119 1414,1119 1413,1122 1399,1122.5 1399,1127.5 1396.5,1129.5 1395.5,1132 1389,1133.2 1386,1135 1385.5,1138.2 1382.2,1139 1381.5,1142 1372.2,1142.5 1369,1145.8 1368.5,1152 1355.5,1152.5 1352.2,1156.5 1349.8,1158.2 1348.5,1162 1342.2,1162 1341.5,1142 1325.5,1142 1324.8,1139.5 1322.2,1138.2 1321,1135 1313,1135 1312.2,1138.2 1306,1139 1306,1139 1281.8,1139.5 1281,1142 1264.2,1142.5 1262.5,1145 1261.8,1142.5 1258,1139.5 1260.5,1138.2 1261,1132.5 1263.5,1131.5 1263.5,1122.5 1261.8,1119.5 1254.2,1119 1253.5,1115 1221,1115.8 1220.5,1119 1214.2,1119.5 1211,1122.5 1210.5,1132 1206.8,1132 1204.2,1129 1203.5,1108.2 1194.2,1108.2 1192.5,1111.5 1180,1112 1179.2,1114.5 1170.5,1114.5 1169.2,1112 1153,1112 1152.5,1114.5 1147.5,1114.5 1146.8,1112.5 1143,1111.5 1126.8,1112 1125.5,1114.5 1096,1115 1093,1111.5 1092.5,1102 1083,1102 1082.5,1095 1076,1095 1075.5,1088.2 1056,1088.2 1055.5,1085 1052.5,1085 1051.8,1087.5 1041.8,1087.5 1041,1085 1035.5,1085.8 1033,1087.5 1032.5,1090.8 1030,1092 1029.2,1097.5 1022.5,1098.2 1021.8,1104.5 1002.5,1105 1001.8,1114.5 968.5,1115 968,1118.2 961,1119 961,1132 945,1132.5 944.2,1135 928.5,1135 928,1132.5 924.2,1132 923.5,1129 905,1129 904.2,1132 890.5,1132.5 890,1141.5 885,1142 884.2,1145 880.5,1145.8 880,1149 864.2,1149 863.5,1146.5 860.5,1146.5 860,1151.5 857.5,1152 856.8,1155.8 853.5,1156.5 853,1159 847.5,1159.5 846.8,1162 843,1163.2 843,1172 846.8,1172.5 846.8,1179 843.5,1179.5 843,1185.8 841,1185.8 840.5,1189 837.5,1189.5 836.8,1199 823.5,1199 823,1205.8 820.5,1205.8 820,1203.2 816.8,1203.2 816,1205.8 800.5,1206.5 800,1209.5 786,1210 786,1212.5 783,1213.2 782.5,1215.8 779.2,1217 779.2,1222.5 783,1223.2 783,1232.5 766,1233.2 765.5,1235.8 762.5,1235.8 761.8,1232.5 752.5,1232.5 751.8,1230.8 746,1230 745.5,1226.5 743,1226.5 742.5,1230 732.5,1230.8 729.2,1233.2 729.2,1235.8 725.5,1236.5 725,1239.5 718,1240 718,1240 715,1240.8 713,1243.2 712.5,1247 695.5,1247 692.5,1251.5 688.8,1252 688,1256.5 655.5,1257 655,1259.5 634.5,1260 633.8,1267.5 631.2,1269.5 630,1273.2 627.5,1274 627,1276.5 621.2,1276.5 620.5,1274 611.2,1274 610.5,1263.2 605,1263.2 604.5,1257.5 602,1257 601.2,1253.2 591.2,1252.5 591.2,1247 593.8,1246.5 594.5,1239.5 597,1239 597,1232.5 582,1232.5 581.2,1235.8 577.5,1236.5 577,1239.5 567.5,1240 567,1242.5 564.5,1242.5 563.8,1240 550.5,1240 550,1242.5 540,1243.2 539.5,1246.5 533.8,1246.5 533,1243.2 530.5,1243.2 530,1246.5 520.5,1247 520,1249.5 506.2,1250 505.5,1252.5 473,1252.5 472.5,1243.2 463.8,1243.2 463,1247 446.2,1247 445.5,1243.2 436.2,1243.2 435.5,1237 432,1236.5 431.2,1233.2 419.5,1233.2 418.8,1230.8 415,1230 414.5,1224 405,1223.2 402.5,1220.8 402,1217.5 398.8,1217 398,1214 395.5,1213.2 395,1215.8 382.5,1215.8 382,1213.2 372,1213.2 371.2,1210 368,1210 367.5,1212.5 345.5,1212.5 345,1210 341.2,1209.5 340.5,1193.2 331.2,1192.5 331.2,1186.5 324.5,1185.8 323.8,1179.5 321.2,1179 321.2,1176.5 318,1175.8 318,1173.2 315,1172.5 314.5,1170 311.2,1169.5 310.5,1166.5 308,1165.8 307.5,1162.5 298,1162 298,1160 301.2,1159 301.2,1152 303.8,1151.5 304.5,1146.5 307.5,1145.8 307.5,1143.2 310.5,1142.5 310.5,1139.5 314.5,1138.2 314.5,1135.8 318,1134.5 318,1132.5 311.2,1132 310.5,1129.5 308,1129 307.5,1125.8 301.2,1125 301.2,1119 298,1118.2 298,1115 294.5,1114.5 294.5,1108.2 291.2,1107.5 291.2,1102 287,1101.5 287,1095.8 293.8,1095 294.5,1092 301.2,1091.5 301.2,1089 303.8,1088.2 304.5,1085 314.5,1084.5 314.5,1075 318,1074.5 318,1070.8 321.2,1070 321.2,1055 323.8,1052 323.8,1052 324.5,1043.8 331.2,1043.8 331.2,1041.2 334.5,1040.5 335,1038 350.5,1038 350.5,1040.5 358,1040.5 358,1043.8 368,1043 368,1037.5 365,1037 365,1030.5 355,1030.5 355,1028 351.2,1027.5 350.5,1017.5 347.5,1017 347.5,1003.8 345,1003 345,1000.5 347.5,1000 347.5,991.2 350.5,990.5 350.5,987 341.2,987 341.2,980.5 331.2,980 331.2,977 321.2,977 321.2,973.8 313.8,973.8 311.2,977 308,977 308,980 287.5,980 287.5,978 283.8,977.5 283.8,974.5 277,974.5 277,970.5 271.2,970.5 271.2,967.5 267.5,967 267,963.8 260,963.8 260,960 247,960 247,957.5 249.5,957 249.5,953.8 247,953 247,940 249.5,939.5 249.5,938 247,937.5 247,930 244.5,929.5 244.5,927.5 247,927 247,920 240,919.5 240,916.2 233,915.5 232.5,913 217,913 217,910 210,909.5 210,906.2 203,906.2 202.5,902.5 193,902.5 193,901.2 190,900.5 189.5,896.2 183,896.2 183,899.5 180,899.5 180,896.2 176.2,895.5 176.2,893 173,892.5 173,886.2 176.2,886.2 176.2,883 179.5,882.5 180,876.2 192.5,876.2 192.5,878.8 199.5,879.2 200,882.5 202.5,882.5 202.5,878.8 212.5,878.8 212.5,877 216.2,876.2 216.2,873.8 220,872.5 220,868.8 240,868.8 240,872.5 243,872.5 243.8,870 246.2,870 247,866.2 250,866.2 250,863 263.8,863 263.8,865.5 273.8,866.2 277,868.8 277.5,872.5 287,872.5 287,875.5 290,874.5 293.8,872.5 294.5,868.8 301.2,868.8 301.2,863 303.8,863 304.5,859.5 310.5,858.8 310.5,856.2 313.8,856.2 313.8,853 311.2,852.5 310.5,846.2 308,845.5 308,848 302,848 301.2,845.5 298,845 297.5,842 291.2,842 291.2,838.8 287,838.8 287,836.2 290,835 291.2,832 298,832 298,828.8 301.2,828 301.2,825 323.8,825 324.5,822.5 335,822.5 335,825 338,828.8 341.2,832 345,832.5 345,836.2 358,836.2 358,838 368,838.8 368,841.2 371.2,841.2 372,836.2 378,835 378,828.8 388,828.8 388,822 392,822 392,819.5 388,818.8 387.5,809.5 385,808.8 385,802 387.5,799.5 391.2,798.8 391.2,796.2 395,795 395,787.5 398.8,785 402,785 402,777.5 405,775.5 408.8,775 408.8,773 405,772.5 405,768.8 398.8,768 398.8,765 387.5,765 387.5,761.2 382,761.2 382,758 378,757.5 378,751.2 382,750.5 382,748 375,747.5 375,745 362,745 362,737.5 355,737.5 355,733.8 345.5,733.8 345,731.2 341.2,731.2 341.2,708 335,708 335,687 341.2,686.2 341.2,681.2 331.2,681.2 331.2,677 328.8,677 328,680.5 318,680.5 318,677 311.2,677 310.5,673.8 301.2,673.8 301.2,670 294.5,670 293.8,667 283.8,666.2 283.8,660" fill="#F7F7F7"/><g clip-path="url(#m)"><polygon points="1167.5,398 1174.2,394.2 1184.2,393 1184.2,384.2 1190.5,380.5 1196.8,374.2 1196.8,398 1230.5,398 1231,407.5 1250.5,408 1261,408 1261,417.5 1250.5,419.2 1250.5,425 1270.5,425 1270.5,430.5 1261,431 1261,437.5 1254.2,438 1254.2,447.5 1261,448 1261,454.2 1254.2,455 1247.5,460.5 1247.5,465 1234.2,465 1234.2,458 1231,455 1238,454.2 1238,447.5 1224.2,447.5 1218,444.2 1209.2,448 1200.5,447.5 1200.5,438 1204.2,437.5 1204.2,430.5 1196.8,429.2 1190.5,425 1184.2,420.5 1184.2,414.2 1180.5,413.5 1180,404.2 1168,403" fill="#D5E8D4"/><polygon points="1244.2,394.2 1247.5,394.2 1248,401 1250,404.2 1250.5,408 1244.2,408" fill="#D5E8D4"/><polygon points="1271,417.5 1280.5,417.5 1281.8,414.2 1288,414.2 1288,421 1284.2,425 1278,425 1277.5,421 1271,421" fill="#D5E8D4"/><polygon points="1099.2,414.2 1105.5,410.5 1108,408 1109.2,414.2 1115.5,414.2 1116,417.5 1120,417.5 1120,414.2 1126,414.2 1126,425 1120,425 1120,430.5 1103,430.5 1103,425 1099.2,425" fill="#D5E8D4"/><polygon points="1136,414.2 1140,411.8 1143,411.8 1143,417.5 1140,420.5 1136,420.5" fill="#D5E8D4"/><polygon points="1174.2,491.8 1177.5,489.2 1183.5,489.2 1184.2,495 1196.8,495 1196.8,499.2 1200.5,501.8 1206.8,501.8 1206.8,508.5 1196.8,508.5 1196.8,518 1190.5,518 1190.5,511.8 1184.2,511.8 1177.5,508.5 1174.2,505.5" fill="#D5E8D4"/><polygon points="1150.5,519.2 1153,519.2 1153.5,521.8 1156.8,522.5 1156.8,526 1160,526.8 1160,535.5 1143,536 1143,532.5 1150,531.8" fill="#D5E8D4"/><polygon points="1150.5,549.2 1156.8,549.2 1156.8,555.5 1153.5,558.5 1150.5,558.5" fill="#D5E8D4"/><polygon points="1157.5,559.2 1176.8,559.2 1176.8,563 1180,563.5 1180,566 1176.8,566.8 1176.8,580 1170.5,580 1170,576.8 1167.5,576 1167.5,565.5 1157.5,565.5" fill="#D5E8D4"/><polygon points="1079.2,606 1086,606 1086,613 1079.2,613" fill="#D5E8D4"/><polygon points="1089.2,613 1109.2,613 1109.2,622.5 1105.5,623 1105.5,626.8 1103,626.8 1102.5,623 1093,622.5 1089.2,619.2" fill="#D5E8D4"/><polygon points="1153,606 1166.8,606 1166.8,613 1176.8,613.5 1176.8,616.8 1173,617.5 1170,620.5 1166.8,622.5 1163,623.5 1163,629.2 1160,629.2 1159.2,626 1156.8,625.5 1156.8,620 1163,619.2 1163.5,613 1160,610 1153,609.2" fill="#D5E8D4"/><polygon points="1190.5,647.5 1196.8,646.8 1197.5,644.2 1207.5,643.5 1207.5,640 1214.2,640 1214.2,660 1190.5,660" fill="#D5E8D4"/><polygon points="1280.5,636.8 1288,636.8 1288,645.5 1294.2,645.5 1295.5,640 1306,640 1306,660 1288,660 1288,648 1283.5,648 1280.5,644.2" fill="#D5E8D4"/><polygon points="1221,636.8 1226.8,636.8 1226,649.2 1221,649.2" fill="#D5E8D4"/><polygon points="1056,384.2 1062.2,384.2 1062.2,390.5 1056,390.5" fill="#D5E8D4"/><polygon points="1062.2,356.8 1068,354.2 1068.5,370.5 1071.8,374.2 1071.8,383.5 1068.5,383.5 1068,374.2 1062.2,373" fill="#D5E8D4"/><polygon points="1563.5,343.8 1571,343.8 1571.5,354.2 1577.2,354.2 1581,357.5 1581,361 1574.8,361 1573,368 1574,376.8 1570.5,376.8 1566,370.5 1564,364.2 1558.5,360.5 1558,350.5" fill="#D5E8D4"/><polygon points="1601.5,519.2 1604.8,519.2 1604.8,525.5 1618,526 1618,529.2 1611.5,530 1611,541.8 1621.5,541.8 1621.5,549.2 1615.5,549.2 1614,552.5 1611.5,553 1608.5,549.2 1604.8,549.2 1601.5,552.5 1598,555.5 1597.2,559.2 1591,563 1589.8,572.5 1588,576 1588,582.5 1581,582.5 1581,573 1578.5,569.2 1581,562.5 1584,559.2 1588,555.5 1588,533 1591,529.2 1597.2,528 1598,525.5 1601.5,524.2" fill="#D5E8D4"/><polygon points="1564.8,580 1571,580 1571.5,583.5 1578,584.2 1578.5,589.2 1588,590.5 1588,596.8 1584.8,600 1578.5,600 1578,596 1574,593 1568.5,592.5 1567.2,590 1561.5,589.2 1563.5,585.5" fill="#D5E8D4"/><polygon points="1571,606 1576,606 1581,610.5 1588,612.5 1588,626 1586,628 1581,629.2 1576,628 1573.5,623 1571,618" fill="#D5E8D4"/><polygon points="1618.5,596 1621.5,590.5 1634.8,590 1634.8,598 1631,600 1628.5,602.5 1623.5,602.5 1622.2,599.2 1618.5,599.2" fill="#D5E8D4"/><polygon points="1628.5,613 1631,606 1634.8,606 1635.5,613 1638.5,615.5 1642.2,620.5 1642.2,623 1629.8,623" fill="#D5E8D4"/><polygon points="1791,542.5 1797.2,542.5 1798,545.5 1804.8,546 1806,550 1811,552.5 1816,556 1824.8,556 1829.8,562.5 1829.8,570.5 1826,575 1823.5,576 1821,581.8 1817.2,585.5 1814.8,593 1813.5,603 1810.5,605.5 1809.8,612.5 1806,616 1800.5,616.8 1797.2,622.5 1794,626 1791,633 1789.8,639.2 1787.2,645.5 1784,648 1782.2,654.2 1753.5,654.2 1753.5,628 1748.5,626 1746,626.8 1740.5,620.5 1739.8,614.2 1746,613 1746.5,600.5 1750.5,597.5 1756,593.5 1756.5,580.5 1760.5,576 1763.5,573 1769.8,572.5 1770.5,563 1773.5,559.2 1777.2,553 1778,549.2 1784,548.5" fill="#D5E8D4"/><polygon points="1783.5,576.8 1806,576.8 1806,580.5 1793.5,582.5 1790.5,585.5 1793.5,590.5 1794.8,596 1799.8,597.5 1808.5,598.5 1809,605.5 1806,612.5 1792.2,613 1780.5,613 1779.8,616.8 1770.5,616.8 1769.8,603 1772.2,600.5 1776.5,600 1777.2,596 1781,592.5 1782.2,583" fill="#F7F7F7"/><polygon points="1686,589.2 1689,586 1695.5,586 1696,593 1692.2,595.5 1686,593" fill="#D5E8D4"/><polygon points="1344.8,398 1351,398 1354.8,401 1353.5,404.2 1351,408 1349,408 1348.5,403 1344.8,401.8" fill="#D5E8D4"/><polygon points="1359,414.2 1366,414.2 1366,418 1359,418" fill="#D5E8D4"/><polygon points="1419.8,411.8 1426,404.2 1430.5,404.2 1430.5,410.5 1426,414.2 1425.5,417.5 1422.2,417.5 1419.8,415" fill="#D5E8D4"/><polygon points="1382.2,439.2 1392.2,438 1396,431 1399,431.8 1399,435 1403,436.8 1402.2,438.5 1397.2,439.2 1392.2,443 1389.8,447.5 1386.5,447.5 1385.5,442.5 1382.2,441.8" fill="#D5E8D4"/><polygon points="1366,440.5 1369,440.5 1369,447.5 1366,447.5" fill="#D5E8D4"/><polygon points="412.5,873 428.8,873 432,876.2 432,882.5 429.5,883.8 429.5,892.5 432.5,893.8 435.5,896.2 435.5,902.5 432.5,903 429.5,906.2 426.2,909.5 426.2,915.5 435.5,916.2 435.5,922.5 446.2,922.5 449.5,922 450,916.2 465.5,916.2 465.5,922.5 469.5,923 469.5,929.5 473.8,930 475,932.5 479.5,927.5 482.5,927 482.5,970 485.5,970 485.5,973.8 475,974.5 476.2,980 482.5,985 482.5,987 475.5,987.5 475,990.5 472,987.5 459.5,987 458.8,983.8 452,983.8 448.8,987.5 448.8,990.5 445.5,987.5 442,987 436.2,980.5 435.5,970 428.8,970 428.8,973.8 426.2,973.8 426.2,963.8 428.8,963 428.8,957.5 412.5,957.5 408.8,963.8 398.8,963.8 402,953.8 392,953 394.5,958.8 394.5,967 387.5,967 387.5,963.8 372,963.8 372,955.5 365,950 358,950 358,946.2 351.2,943.8 358,940 358,933 365,930 382,929.5 382,927 388,926.2 388,916.2 405,915.5 405,910 408.8,909.5 408.8,906.2 412.5,903 412.5,899.5 419.5,896.2 419.5,876.2 412.5,876.2" fill="#D5E8D4"/><polygon points="412.5,930 418.8,929.5 418.8,927 425.5,927 428.8,928.8 432.5,923 445.5,922.5 446.2,932.5 442.5,933 442,940.5 438.8,947 435.5,948.8 435.5,952.5 423.8,952 419.5,947 418.8,943 412.5,942.5" fill="#F7F7F7"/><polygon points="459.5,970 466.2,969.5 468.8,973 466.2,976.2 459.5,976.2" fill="#F7F7F7"/><polygon points="388,974.5 395,970 412,970 415,980 422,985 421.2,1000.5 415,994.5 405,991.2 395,997 388,1010 376.2,1015 372,1000.5 362.5,1000 362.5,987 372,985.5 388,980" fill="#D5E8D4"/><polygon points="555,1005 570,1001.2 570.5,987 594.5,986.2 594.5,970 577.5,973.8 577.5,964.5 587.5,953 594.5,947 627.5,947 628,973.8 641.2,964.5 658,963.8 677.5,963.8 678,957 688.8,947 677.5,945 678,940 688.8,943 702.5,933 703.8,939.5 718,939.5 718,1052 570,1052 560.5,1040 557.5,1020 555,1010" fill="#D5E8D4"/><polygon points="611.2,977 625,977 625,996.2 611.2,996.2 610,990" fill="#F7F7F7"/><polygon points="624.5,923 637.5,923 638,930 645,930.5 645,934.5 648.8,935 650,941.2 645.5,942.5 645,957 638.8,957 638.8,952 642,951.2 641.2,935 633.8,933.8 632,928.8 624.5,927.5" fill="#D5E8D4"/><polygon points="517,1052 523.8,1048.8 530,1047.5 537,1045 540,1041.2 546.2,1041.2 546.2,1052" fill="#D5E8D4"/><polygon points="540,888.8 546.2,888.8 546.2,893 540,893" fill="#D5E8D4"/><polygon points="500,903.8 506.2,901.2 510,903 506.2,910 500.5,910" fill="#D5E8D4"/><polygon points="587.5,1028.8 597.5,1027.5 601.2,1035 608,1035 611.2,1041.2 623.8,1041.2 623.8,1047.5 627.5,1047.5 628.8,1038.8 632.5,1038.8 635,1045 645,1046.2 645,1052 587.5,1052 585,1042.5" fill="#D5E8D4"/><polygon points="658,1011.2 665,1017.5 667.5,1021.2 665,1027.5 667.5,1032.5 670,1036.2 671.2,1043.8 675,1047.5 687.5,1047.5 687.5,1052 665,1052 658,1041.2 655,1022.5" fill="#D5E8D4"/><polygon points="601.2,1015 608,1011.2 611.2,1020 601.2,1020" fill="#D5E8D4"/><polygon points="1071.8,683.8 1078,683.8 1079.2,677 1085.5,677 1089.2,670 1091.8,667 1095.5,667 1099.2,670 1113,670 1116.8,676.2 1125.5,676.2 1126,670 1143,670 1143.5,667 1153,666.2 1156.8,660 1166.8,660 1166.8,677 1176.8,677 1178,680.5 1183,681.2 1183,683.8 1193,683.8 1194.2,680 1196.8,677 1200.5,673.8 1200.5,667 1226.8,667 1226.8,660 1248,660 1250.5,663.8 1251.8,670 1255.5,673.8 1260.5,677 1260.5,683.8 1256.8,685 1254.2,687.5 1253,693.8 1250.5,700.5 1233,701.2 1233,707.5 1229.2,710 1226.8,708.8 1216.8,707.5 1216.8,703.8 1206.8,703.8 1207.5,718 1210.5,718.8 1211,723.8 1220.5,724.5 1220.5,727.5 1216.8,730 1214.2,733.8 1210,733.8 1206.8,727.5 1200.5,727.5 1194.2,731.2 1190.5,733.8 1190,740.5 1174.2,741.2 1173.5,744.5 1170.5,744.5 1167.2,740.5 1167.2,723.8 1158,723 1153,720 1151.8,717 1147.5,717 1144.2,713.8 1140.5,712.5 1135,712.5 1131.8,713.8 1123,713.8 1115.5,714.5 1113,716.2 1109.2,720 1109.2,730.5 1113,731.2 1113,744.5 1109.2,745 1103,741.2 1103,747.5 1089.2,748 1087.5,750.5 1083,747.5 1082.5,740.5 1076,740 1072.5,737.5 1069.2,733.8 1069.2,728 1075.5,727.5 1076,730.5 1093,730.5 1095.5,727.5 1095.5,724.5 1089.2,723.8 1089.2,720.5 1098,720.5 1099.2,723.8 1105.5,723.8 1106.2,720 1109.2,717.5 1109.2,708 1105.5,707.5 1105.5,704.5 1103,703.8 1096.8,703.8 1095.5,707 1085.5,708 1085.5,717.5 1080.5,719.5 1079.2,711.2 1072.5,710 1072.5,708 1076,707 1076,704.5 1069.2,703.8 1066.8,706.2 1066.8,708.8 1064.2,707.5 1060,703.8 1059.2,701.2 1069.2,700.5 1069.2,697 1071.8,696.2" fill="#D5E8D4"/><polygon points="1158,693.8 1166.8,693.8 1167.5,698 1170,698.8 1170,701.2 1167.5,703 1174.2,704.5 1175,708 1180.5,708.8 1183.5,711.2 1184.2,723 1177.5,723.8 1176.8,730 1173.5,732.5 1167.5,732.5 1167.5,711.2 1163,710 1162.5,701.2 1160,700 1158,697.5" fill="#F7F7F7"/><polygon points="1065.5,660 1079.2,660 1079.2,663.8 1065.5,663.8" fill="#D5E8D4"/><polygon points="1270.5,660 1278,660 1278,670 1271,670" fill="#D5E8D4"/><polygon points="1035.5,693.8 1039.2,693.8 1039.2,700.5 1035.5,700.5" fill="#D5E8D4"/><polygon points="1039.2,687.5 1045.5,681.2 1049.2,681.2 1049.2,687 1044.2,687.5 1044.2,693.8 1040.5,693.8" fill="#D5E8D4"/><polygon points="1035,708 1042.5,708 1042.5,711.2 1035,711.2" fill="#D5E8D4"/><polygon points="1211,761.2 1224.2,761.2 1224.2,765 1211,765" fill="#D5E8D4"/><polygon points="718,940 728.5,940 729.2,947 736,947.5 736,950 746,950 746,947 752.5,947 753,940 756.8,933.8 761.8,933 762.5,937 773,937 773,933 778.5,933.8 779.2,937 783.5,939.5 786,937 786,916.2 792.5,915.5 793,922 790.5,923 793,930 805.5,930 806,927 810,922.5 815.5,923 818,926.2 820,922.5 823,923 823,937 813,937 813,939.5 820,940 820,952.5 810,953 810,957 823,957 823,970 820,971.2 817.5,973.8 813,975 810,979.5 825.5,980 826,986.2 833,987 833,997.5 837.5,997 840,998 840,1003 833,1004.5 833,1037.5 829.2,1038.8 826,1041.2 823,1042 823,1052 718,1052" fill="#D5E8D4"/><polygon points="961,886.2 975,886.2 975,892.5 978,893 978,896.2 975,897 975,910 968,910 967.5,906.2 961,906.2 960,910 958,910 957.5,903.8 954.2,902.5 951,899.5 951,893 958,892.5 958,889.5 961,888.8" fill="#D5E8D4"/><polygon points="779.2,876.2 785.5,876.2 786,879.5 793,879.5 793,886.2 789.2,886.2 788,888.8 786,888.8 785.5,886.2 782.5,885.5 779.2,882.5" fill="#D5E8D4"/><polygon points="921,923 928,923 928,933 914.2,933 914.2,930 921,930" fill="#D5E8D4"/><polygon points="1071.8,946.2 1076.8,940 1079.2,940 1080.5,943.8 1089.2,947 1095.5,950 1095.5,963.8 1103,964.5 1103,970 1098.5,970.5 1098,973.8 1093,973.8 1092.5,970.5 1079.2,970 1078,972.5 1073,972.5 1073,977.5 1070.5,970 1069.2,976.2 1056.8,977 1056,980 1049.2,980.5 1048.5,993.8 1045.5,994.5 1045,991.2 1029.2,991.2 1029.2,993.8 1022.5,994.5 1021.8,1003.8 1019.2,1004.5 1019.2,1010 1012.5,1010.5 1011.8,1013.8 1005.5,1013.8 1003,1007 998,1006.2 997.5,1003.8 991.8,1004.5 991.8,1016.2 995,1017 995,1020.5 1004.2,1021.2 1005.5,1023.8 1008,1024.5 1008,1028 1021,1028 1021.8,1021.2 1028,1021.2 1028.5,1023.8 1031.8,1024.5 1031.8,1027.5 1025,1028 1025,1033.8 1022.5,1034.5 1021.8,1037.5 1018.5,1038 1018,1041.2 1015,1042 1015,1047.5 1008,1048 1008,1052 1120,1052 1119.2,1043.8 1116,1043 1116,1028.8 1120,1028 1120,1021.2 1113,1020.5 1113,1017.5 1109.2,1017 1109.2,1011.2 1113,1010 1116.8,1003.8 1120,1003.8 1120,1000.5 1113,1000 1112.5,997 1109.2,997.5 1108.5,1000.5 1105,1003.8 1103,1010 1089.2,1010.5 1089.2,1003.8 1093,1002.5 1093,994.5 1096.8,993.8 1103,993.8 1103,987 1089.2,987 1088.5,990.5 1085.5,994.5 1085.5,1000 1079.2,1000.5 1078.5,991.2 1075.5,990.5 1076,985 1073,982.5 1070.5,977.5" fill="#D5E8D4"/><polygon points="1079.2,951.2 1085.5,951.2 1085.5,953.8 1079.2,953.8" fill="#F7F7F7"/><polygon points="1079.2,957 1092.5,957 1092.5,963.8 1079.2,963.8" fill="#F7F7F7"/><polygon points="1140.5,1027.5 1143,1027.5 1143.5,1033.8 1149.2,1034.5 1150,1040.5 1156.8,1041.2 1159.2,1045 1159.2,1052 1120,1052 1126,1048.8 1129.2,1045 1133,1043.8 1135,1040 1138,1037.5 1138.5,1032 1140.5,1031.2" fill="#D5E8D4"/><polygon points="1045.5,947.5 1049.2,947.5 1049.2,950 1053,950.5 1056,953 1065.5,953 1065.5,957 1056,957 1053,953.8 1045.5,950" fill="#D5E8D4"/><polygon points="1301.8,1017.5 1306,1017.5 1306,1043.8 1301.8,1043.8" fill="#D5E8D4"/><polygon points="1244.2,1047.5 1253.5,1045 1254.2,1038.8 1260.5,1038 1264.2,1043.8 1264.2,1052 1244.2,1052" fill="#D5E8D4"/><polygon points="1209.2,1052 1212.5,1048.8 1218,1046.2 1221,1043.8 1224.2,1043.8 1225,1048.8 1238,1048.8 1238,1052" fill="#D5E8D4"/><polygon points="1248,755 1254.2,752 1258,751.2 1258,755 1253,758 1248,758" fill="#D5E8D4"/><polygon points="1312.2,788.8 1318,782.5 1322.2,777.5 1324.8,771.2 1328.5,768 1335.5,768 1336,772 1342.2,772.5 1343,775 1349,775 1349.8,772 1352.2,772 1353.5,775 1359,775.5 1359,782 1355.5,782.5 1355.5,795 1359,795 1359,797.5 1335.5,798 1334.8,795 1328.5,795.5 1327.2,797.5 1318,797.5 1317.2,793.8 1312.2,791.2" fill="#D5E8D4"/><polygon points="1359,745 1362.2,741.2 1376,740.5 1376.5,732.5 1380.5,731.2 1381,727.5 1388.5,728 1389,734.5 1392.2,735 1392.2,740 1388.5,740.5 1382.2,741.2 1382.2,746.2 1386,748.8 1386,755 1382.2,758 1386,762.5 1386,766.2 1382.2,767.5 1379.8,772 1376,772.5 1374.8,775 1372.2,775 1371.5,772 1366,770 1366,765 1362.2,764.5 1359,762.5" fill="#D5E8D4"/><polygon points="1419,731.2 1429.8,731.2 1430.5,734.5 1436,735 1436,740.5 1430.2,741.2 1430.2,761.2 1426,762.5 1422.2,765 1414.8,765 1413,761.2 1409,758.8 1406,756.2 1409,753.8 1409,747 1413,745 1419,744.5" fill="#D5E8D4"/><polygon points="1516.5,718 1530.5,718 1531,727.5 1534,728 1534,744.5 1531,745 1527.2,748.8 1523.5,750 1523.5,754.5 1517.2,755 1517.2,751.2 1511,750.5 1507.2,747.5 1503.5,746.2 1499.8,745 1496.5,748 1494.8,751.2 1493,757.5 1490.5,757.5 1489.8,752.5 1483.5,751.2 1483,741.2 1491,740.5 1494,738 1499.8,734.5 1503.5,732.5 1507.2,731.2 1510.5,727.5 1513.5,727" fill="#D5E8D4"/><polygon points="1596,677 1600.5,677 1600.5,683.8 1597.2,684.5 1597.2,693.8 1598.5,700 1604.8,701.2 1604.8,707.5 1612.2,710 1617.2,711.2 1621.5,713.8 1621.5,723.8 1611.5,723.8 1610.5,718 1588.5,717.5 1586,714.5 1581,713 1574,712.5 1569.8,715.5 1564.8,718 1561,721.2 1558,724.5 1557.2,727.5 1551,727.5 1550.5,724.5 1547.2,723.8 1547.2,711.2 1551,708.8 1551,695 1558,693.8 1563.5,692.5 1571,690.5 1581,689.5 1588,684.5 1591,683.8 1594.8,680" fill="#D5E8D4"/><polygon points="1728.5,677 1736,677 1736,683.8 1728.5,683.8" fill="#D5E8D4"/><polygon points="1736,660 1746,660 1746,667.5 1753.5,668.8 1756,675 1756,683.8 1746,683.8 1746,677.5 1739.8,670 1736,667" fill="#D5E8D4"/><polygon points="1486.5,809.5 1491,807.5 1494.8,805 1498.5,800 1501,795 1504,788.8 1509.8,776.2 1521,775.5 1521.5,772.5 1526.5,772.5 1527.2,782.5 1531,787.5 1547.2,787.5 1548,782.5 1554,782.5 1554.8,787.5 1563.5,787.5 1564.8,782.5 1574,782 1574.8,777.5 1581,777.5 1581.5,782 1584.8,778.8 1591,776.2 1600.5,775.5 1601.5,768 1608,765.5 1627.2,765 1628,768 1634.8,768.8 1635.5,776.2 1638.5,782.5 1642.2,785 1645.5,788 1654.8,788 1655.5,796.2 1658.5,797.5 1654.8,804.5 1645.5,804.5 1641.5,806.2 1638.5,807.5 1635.5,811.2 1632.2,811.5 1628.5,809.5 1623,808.8 1618.5,808.8 1616,807 1609.8,805 1609.8,799.5 1604.8,799.5 1598.5,804.5 1597.2,807.5 1595.5,811.2 1588.5,812 1570.5,812.5 1568.5,816.2 1564.8,820 1564,831.2 1554.8,832.5 1553.5,827 1547.2,825 1539.8,827 1532.2,827.5 1526,825 1521,827 1517.2,828.8 1511,827.5 1506,828.8 1494.8,828.8 1494,816.2 1488.5,811.2" fill="#D5E8D4"/><polygon points="1564.8,802.5 1571,798.8 1581,798.8 1588,802.5 1596,805 1596,811.2 1588.5,812 1570.5,812.5 1564.8,811.2" fill="#F7F7F7"/><polygon points="1604.8,812 1618.5,813.8 1621.5,816.2 1631,816.2 1632.2,820 1641.5,822 1642.2,828.8 1654.8,828.8 1655.5,825 1658.5,825 1659,805 1666,804.5 1667.2,797.5 1673.5,797 1676,804.5 1681,804.5 1681,792.5 1686,792 1686.5,788.8 1691,788.8 1692.2,792.5 1706,792.5 1706.5,797.5 1709,804.5 1716,805 1718.5,811.2 1722.2,812 1723,820 1722.2,822.5 1726,823.8 1726,817.5 1729,805 1741,804.5 1742.2,800 1746,797 1753.5,796.2 1757.2,794.5 1763,795 1763.5,792 1770.5,792 1771.5,795 1776,797.5 1777.2,803.8 1780.5,805 1781,808.8 1784,809.5 1786.5,812.5 1787.2,818 1790.5,820 1793.5,824.5 1799.8,825 1799.8,838.8 1797.2,839.5 1797.2,842 1800.5,842.5 1801,846.2 1804,847 1804,855.5 1816.5,855.5 1817.2,860 1806,866.2 1806,868.8 1809.8,870 1813.5,880 1814,883.8 1817.2,888.8 1817.2,898.8 1811,900 1806,900.5 1803.5,909.5 1796.5,909.5 1793.5,910 1793,915 1796.5,916.2 1796.5,922.5 1791,922.5 1787.2,921.2 1787.2,910 1781,910 1776.5,912.5 1773,912 1770.5,915 1766,913 1762.2,916.2 1759,920 1756,922.5 1726,922.5 1722.2,925 1722.2,930 1716,930.5 1716,939.5 1713.5,940.5 1714.8,955 1723,956.2 1723,963.8 1703.5,964.5 1708.5,970 1708.5,986.2 1701,986.2 1686,986.2 1686,982.5 1681,980 1669.8,979.5 1666,977 1662.2,973.8 1661,967 1649.8,965.5 1638.5,963.8 1638,953.8 1635.5,953 1631,956.2 1628,957 1628,972.5 1619.8,973.8 1617.2,975.5 1617.2,981.2 1613.5,981.2 1609.8,982.5 1608.5,977.5 1597.2,977 1596,972.5 1588.5,972.5 1588.5,957 1581,956.2 1581,950 1574,947 1568,940 1564.8,933.8 1563.5,930 1571,927 1574,922.5 1574,916.2 1568,922 1564,921.2 1563.5,915 1562.2,912.5 1561,905 1557.2,900 1548,899.5 1547.2,890 1551,881.2 1556,877 1561,875.5 1561,870 1563.5,866.2 1561,857.5 1563.5,852.5 1559.8,850.5 1558.5,845 1561,843 1566,843.8 1571,850.5 1577.2,851.2 1578.5,835 1582.2,828.8 1591,827 1596,830 1596,835 1598.5,838 1599.8,826.2 1601.5,822.5 1604.8,820" fill="#D5E8D4"/><polygon points="1659,863 1668.5,863 1672.2,866.2 1681,866.2 1686,869.5 1688.5,875 1688.5,895 1686,898.8 1679.8,901.2 1676,905 1669.8,906.2 1668.5,910 1658.5,910 1658.5,898.8 1656,897.5 1653,886.2 1658.5,883.8 1658.5,875 1656,872.5" fill="#F7F7F7"/><polygon points="1596,900 1618.5,900.5 1628.5,900 1628.5,902.5 1618.5,903 1611,909.5 1610.5,915.5 1604.8,922.5 1597.2,923 1599,920 1596,917.5" fill="#F7F7F7"/><polygon points="1596,852.5 1599.8,852.5 1601,860 1604.8,860 1604.8,862.5 1611,860 1617.2,860 1618,868.8 1611.5,869.5 1608.5,872 1604.8,875 1604.8,885.5 1596,885.5 1595.5,875" fill="#F7F7F7"/><polygon points="1740.5,812.5 1746,812 1750.5,815 1753.5,818 1759.8,818.8 1759.8,824.5 1749.8,824.5 1746,821.2 1740.5,819.5" fill="#F7F7F7"/><polygon points="1628,852 1635.5,852 1635.5,855.5 1628,855.5" fill="#F7F7F7"/><polygon points="1467.2,868.8 1476.5,868.8 1477.2,874.5 1483,873.8 1486.5,875 1486.5,882.5 1489.8,883 1493.5,886.2 1493.5,892.5 1486.5,893 1486.5,902 1490.5,902.5 1492.2,906.2 1497.2,906.2 1498.5,910 1500.5,906.2 1509.8,906.2 1510.5,910 1514,910 1514.8,916.2 1523.5,916.2 1523.5,922.5 1521,923 1521,930 1518,930.5 1518,933.8 1521,934.5 1520.5,937 1514,937.5 1513.5,940 1507.2,940.5 1506,947 1503.5,947 1503.5,931.2 1499.8,930.5 1494,931.2 1494,937.5 1486,939.5 1481,940 1478,947 1476,941.2 1469.8,941.2 1469,947 1466,947 1466,943 1460.5,942.5 1453.5,942 1453.5,935 1457.2,931.2 1460.5,927 1459.8,915.5 1453.5,915.5 1453,906.2 1457.2,903.8 1459.8,897 1463.5,892.5 1463,886.2 1459.8,885 1460.5,875.5 1467.2,875" fill="#D5E8D4"/><polygon points="1541,920 1546.5,920 1547.2,927.5 1552.2,930 1561,930.5 1562.2,933.8 1566,934.5 1568,940 1568.5,947.5 1571,952 1568.5,957.5 1568.5,962 1563.5,963 1561,958.8 1557.2,961.2 1557.2,963.8 1534,963.8 1531,960 1531,953.8 1523.5,952.5 1521,955.5 1514.8,958.8 1511,953.8 1514.8,953 1521,950 1524.8,947 1534,945 1534,935 1532.2,931.2 1534,927 1537.2,923.8" fill="#D5E8D4"/><polygon points="1399.8,876.2 1404.8,875.5 1406,883.8 1409,886.2 1413,887 1413.5,889.5 1419.8,889.5 1423,892.5 1426,893.8 1426,900 1429.8,900.5 1429.8,903 1425.5,903.8 1425.5,906.2 1419.8,906.2 1419.8,900 1399,899.5 1396,896.2 1389.8,896.2 1386,901.2 1382.2,904.5 1382.2,901.2 1385.5,898.8 1388.5,893.8 1392.2,892.5 1396,891.2 1399,888.8 1399,884.5 1396,883.8 1396,882 1399.8,881.2" fill="#D5E8D4"/><polygon points="1355.5,953.8 1359,950.5 1371.5,950.5 1372.2,963.8 1375.5,964.5 1375.5,967 1366,967 1366,963.8 1360.5,963 1359,960 1355.5,957.5" fill="#D5E8D4"/><polygon points="1396,933 1399,933 1399.8,937 1406,937.5 1406,940 1401,940.5 1399,943.8 1399,947 1389,947 1389,940.5 1395.5,940" fill="#D5E8D4"/><polygon points="1426,829.5 1436,829.5 1436,845.5 1426,845.5" fill="#D5E8D4"/><polygon points="1459.8,836.2 1469.8,836.2 1469.8,845.5 1463.5,845.5 1463,848.8 1459.8,848.8" fill="#D5E8D4"/><polygon points="1450.5,859.5 1463,859.5 1463,863 1459.8,864.5 1459,868.8 1453.5,868.8 1453,863 1450.5,862.5" fill="#D5E8D4"/><polygon points="1306,1017 1312.2,1016.2 1316,1004.5 1318.5,1003.8 1328.5,1003 1331,1000.5 1334.8,1000.5 1335.5,1003.8 1341,1004.5 1342.2,1013.8 1344.8,1017 1365.5,1017 1366,1011.2 1371.5,1011.2 1371.5,1027.5 1359,1028 1359,1035 1362.2,1038.8 1366,1039.5 1366,1043.8 1359.8,1044.5 1351,1046.2 1342.2,1047.5 1342.2,1052 1306,1052" fill="#D5E8D4"/><polygon points="1574,986.2 1581,986.2 1581,993.8 1574,993.8" fill="#D5E8D4"/><polygon points="1564,994.5 1570.5,994.5 1570.5,1001.2 1568.5,1004.5 1564.8,1004.5 1564,1012.5 1567.2,1017.5 1571,1020 1571,1027.5 1564.8,1028 1563.5,1022 1554.8,1022 1554,1027.5 1558.5,1028 1558.5,1004.5 1561,1003.8 1563.5,1001.2" fill="#D5E8D4"/><polygon points="1588,986.2 1594.8,986.2 1596,993.8 1597.2,995 1601,992 1603.5,987.5 1605.5,985 1609,983.8 1612.2,984.5 1613.5,981.2 1618.5,981.2 1618.5,984.5 1621.5,985 1623.5,987.5 1628.5,992.5 1630.5,996.2 1628.5,1000 1624.8,1000.5 1621.5,1002.5 1620.5,1010 1621.5,1013.8 1618,1015 1617.2,1020 1613.5,1024.5 1611,1027 1611,1033.8 1606,1034.5 1604.8,1040 1601,1041.2 1598.5,1037.5 1597.2,1033.8 1581,1033.8 1580.5,1037.5 1578,1037.5 1577.2,1033.8 1574,1030 1574,1023.8 1577.2,1020 1581,1017.5 1581,1003.8 1588,1003 1588,995 1588.5,986.2" fill="#D5E8D4"/><polygon points="1723,993.8 1729,993.8 1729.8,997 1745.5,997 1746,1013.8 1752.2,1014.5 1753,1020 1756,1021.2 1756,1030 1759.8,1030.5 1760.5,1035 1762.2,1036.2 1759,1040 1759,1043 1753.5,1043.8 1753.5,1050 1746.5,1050 1746,1043 1743,1040 1743,1029.5 1739.8,1028.8 1739,1025 1735.5,1023.8 1735.5,1020.5 1723,1020" fill="#D5E8D4"/><polygon points="1658.5,996.2 1664.8,996.2 1664.8,1003.8 1658.5,1003.8" fill="#D5E8D4"/><polygon points="1682.2,1011.2 1686,1011.2 1687.2,1014.5 1692.2,1014.5 1693,1011.2 1698.5,1011.2 1698.5,1020 1686,1020 1682.2,1016.2" fill="#D5E8D4"/><polygon points="1857.2,1030 1863.5,1027.5 1868.5,1028 1869,1032.5 1873.5,1033 1873.5,1037.5 1866,1037.5 1863.5,1033.8 1857.2,1033.8" fill="#D5E8D4"/><polygon points="1763.5,1041.2 1769.8,1037.5 1772.2,1037.5 1772.2,1043.8 1768.5,1047 1763.5,1047" fill="#D5E8D4"/><polygon points="1658.5,1052 1666,1050 1683.5,1050 1688.5,1041.2 1698.5,1041.2 1698.5,1052" fill="#D5E8D4"/><polygon points="1863.5,930 1868.5,930 1868.5,942.5 1863.5,942.5" fill="#D5E8D4"/><polygon points="1773,915 1781,915 1782.2,921.2 1773,922.5" fill="#D5E8D4"/><polygon points="1786.5,910 1796.5,910 1796.5,922.5 1791,922.5 1787.2,920" fill="#D5E8D4"/><polygon points="1861,892.5 1894,892.5 1894,915.5 1891,915.5 1889.8,910 1878.5,907.5 1876,912.5 1874,912.5 1873.5,907.5 1868.5,904.5 1864,900.5 1861,897.5" fill="#D5E8D4"/><polygon points="1874,917.5 1878.5,916.2 1878.5,922 1874,922.5" fill="#D5E8D4"/><polygon points="1343.5,685 1371.5,684.5 1371.5,693.8 1351,693 1349,689.5 1343.5,689.5" fill="#F7F7F7"/><polygon points="1408.5,704.5 1416,704.5 1416,708.8 1408.5,708.8" fill="#F7F7F7"/><polygon points="1483.5,788.8 1494,788.8 1494,795 1483.5,795" fill="#F7F7F7"/><polygon points="2167,927 2167.5,923 2170.8,923 2171.5,926.2 2178.2,926.2 2178.2,923 2188.2,923 2189,925.5 2191.5,925.5 2191.5,923 2225,923 2225.8,926.2 2228.2,925.5 2230.8,920.5 2238.2,920 2238.2,916.2 2242,913 2247.5,912.5 2248.2,910 2299,910 2299.5,906.2 2319,906.2 2319,909.5 2333.2,910 2333.2,912.5 2339.5,912.5 2339.5,910 2345.8,910 2345.8,913 2352.5,913 2352.5,922.5 2358.2,923 2359,926.2 2355.8,927 2353.2,930 2352,933 2349,933.8 2349,942.5 2352.5,943 2353.2,950 2362.5,950 2363.2,960 2359,963.8 2359,970.5 2358.2,980 2355.8,980.5 2355.8,986.2 2345.8,986.2 2345.8,977.5 2329,977 2328.2,973.8 2325.8,970.5 2312,970.5 2312,979.5 2309,980 2309.5,983.8 2312.5,984.5 2315.8,987.5 2315.8,1004.5 2312,1006.2 2305.8,1007 2305.8,1033.8 2302.5,1034.5 2302,1040.5 2292,1040.5 2289,1036.2 2285.8,1034.5 2285,1026.2 2282,1023.8 2279.5,1020.5 2279,1027.5 2272,1028.8 2271.5,1033.8 2264.5,1034.5 2262,1031.2 2255,1031.2 2254.5,1035 2248.2,1035 2247.5,1041.2 2243.2,1043.8 2240.8,1047 2238.2,1052 2230.8,1052 2230.8,1040 2228.2,1036.2 2230.8,1030 2230.8,1020.5 2225.8,1020.5 2223.2,1027.5 2220.8,1027.5 2221.5,1020.5 2215,1020 2208.2,1020 2207.5,1017 2202,1016.2 2199.5,1012.5 2198.2,1011.2 2204.5,1008.8 2204.5,1004.5 2207.5,1003.8 2207.5,995 2204.5,993.8 2201.5,992.5 2200,990 2197,988.8 2192,986.2 2191.5,984.5 2194,983.8 2194,977.5 2191.5,977 2190.8,970 2181.5,969.5 2180.8,963.8 2174,963.8 2174,957 2177,956.2 2178.2,953 2183.2,952.5 2184,946.2 2181.5,945 2181.5,942 2184,941.2 2178.2,936.2 2174,933.8 2167,933" fill="#D5E8D4"/><polygon points="2201.5,933 2207.5,933 2207.5,936.2 2201.5,936.2" fill="#F7F7F7"/><polygon points="2151.5,933 2154,933 2154,940 2167,940 2167,950 2164,950.5 2160.8,953 2160.8,956.2 2150.8,957 2150.8,963.8 2157,964.5 2156.5,970 2153.2,970.5 2153.2,977 2150.8,980 2144.5,980 2144,970 2137,969.5 2137,963.8 2130.8,963 2127,962.5 2123.2,963.8 2120,962 2119.5,958.8 2114,956.2 2114,953 2118.2,950.5 2124,950 2124.5,947 2151.5,946.2" fill="#D5E8D4"/><polygon points="1892,892.5 1915,893 1915,895.5 1918.2,899.5 1915,902 1910.8,905 1908.2,907.5 1908.2,909.5 1910.8,913 1915,913.8 1915,920 1905.8,920 1904.5,916.2 1892,915.5" fill="#D5E8D4"/><polygon points="2130.8,1013.8 2139.5,1013.8 2140,1016.2 2154,1017 2154,1023.8 2151.5,1025 2150.8,1033.8 2136.5,1034.5 2136.5,1041.2 2134,1047.5 2130,1047.5 2129.5,1041.2 2124.5,1040.5 2120,1037.5 2120,1028 2124,1027.5 2124.5,1023.8 2127.5,1023 2127.5,1017" fill="#D5E8D4"/><polygon points="1938.2,1000.5 1952,1000.5 1952,1003.8 1948.2,1004.5 1945,1007.5 1944.5,1020.5 1942,1021.2 1941.5,1027.5 1938.2,1027.5 1937.5,1023.8 1928.2,1023.8 1927.5,1027.5 1921.5,1027.5 1921.5,1021.2 1915,1020.5 1915,1017 1921.5,1013.8 1928.2,1013 1928.2,1004.5 1938.2,1003.8" fill="#D5E8D4"/><polygon points="2043.2,1011.2 2049,1011.2 2049.5,1017.5 2055.8,1017.5 2055.8,1027.5 2043.2,1027.5 2042,1023.8 2033.2,1023 2032,1020 2025.8,1020 2025.8,1013.8 2035.8,1013.8 2037,1017 2042,1017" fill="#D5E8D4"/><polygon points="2055.8,1033.8 2060,1031.2 2065.8,1031.2 2066.5,1038 2072.5,1038.8 2072.5,1041.2 2065.8,1042 2060,1043.8 2055.8,1041.2" fill="#D5E8D4"/><polygon points="1962,970 1969,970 1969,973.8 1962,973.8" fill="#D5E8D4"/><polygon points="1910.8,993.8 1920.8,993.8 1920.8,997 1910.8,997" fill="#D5E8D4"/><polygon points="2130,980 2136.5,980 2136.5,987 2130,987" fill="#D5E8D4"/><polygon points="1892,1045 1897,1043.8 1897,1052 1892,1052" fill="#D5E8D4"/><polygon points="1915,1038.8 1924.5,1035 1928.2,1033.8 1942,1033.8 1942,1038.8 1945,1043.8 1944.5,1052 1907,1052 1902,1042.5 1908.2,1041.2" fill="#D5E8D4"/><polygon points="2218.2,1033.8 2221.5,1033.8 2221.5,1037.5 2218.2,1037.5" fill="#D5E8D4"/><polygon points="2220.8,1048.8 2225.8,1047.5 2227,1052 2220.8,1052" fill="#D5E8D4"/><polygon points="2222,1052 2230.8,1052 2231.5,1055 2238.2,1055.8 2239,1057.5 2247.5,1058.2 2248.2,1067.5 2251.5,1068.2 2252,1074.5 2255,1075 2255,1084 2262,1084.5 2262,1075 2268.2,1074.5 2269.5,1067.5 2273.2,1065 2279,1065 2279,1071.5 2281.5,1072.5 2279,1075.8 2278.2,1081.5 2275.8,1084.5 2279,1087 2279,1092 2262,1095 2262,1098.2 2220.8,1098.2 2220.8,1095 2204.5,1092 2204,1088.2 2210.8,1087 2212,1081.5 2215,1079 2215,1067.5 2218.2,1067 2218.2,1060.8 2221.5,1058.2" fill="#D5E8D4"/><polygon points="2244.5,1078.2 2247.5,1078.2 2247.5,1092 2244.5,1092" fill="#F7F7F7"/><polygon points="2302,1052 2305.8,1052 2312,1055 2312,1075 2315.8,1075.8 2315.8,1084.5 2309,1084.5 2308.2,1078.2 2302,1077 2302,1067.5 2295,1067 2295,1065 2298.2,1064 2299.5,1060.8 2302,1060" fill="#D5E8D4"/><polygon points="1892,1052 1917,1052 1920.8,1056.5 1932,1057.5 1937,1052 1945.8,1052 1945,1059.5 1940.8,1062 1939.5,1070.8 1937,1075 1932,1075.8 1932,1088.2 1935.8,1092 1937,1097.5 1945,1098.2 1944.5,1105 1938.2,1105 1935,1108.2 1925.8,1108.2 1924.5,1105.8 1925.8,1098.2 1924,1094 1917,1093.2 1915,1096.5 1915,1105.8 1907,1108.2 1900.8,1110 1898.2,1114 1898.2,1121.5 1892,1122" fill="#D5E8D4"/><polygon points="473,1252.5 472.5,1240 475.5,1237 476.2,1227 478.8,1223.2 483,1222 483,1215.8 476.2,1214.5 473.8,1212 473,1207 476.2,1203.2 483,1202 483,1189 476.2,1187 490,1185.8 490,1177 493.8,1169.5 499.5,1168.2 500,1162 500,1152 503.8,1148.2 500,1147 500,1144 506.2,1142 506.2,1134 510,1132.5 513.8,1128.2 517.5,1125.8 517,1087 517.5,1052 718,1052 718,1240 715,1240.8 713,1243.2 712.5,1247 695.5,1247 692.5,1251.5 688.8,1252 688,1256.5 655.5,1257 655,1259.5 634.5,1260 633.8,1267.5 631.2,1269.5 630,1273.2 627.5,1274 627,1276.5 621.2,1276.5 620.5,1274 611.2,1274 610.5,1263.2 605,1263.2 604.5,1257.5 602,1257 601.2,1253.2 591.2,1252.5 591.2,1247 593.8,1246.5 594.5,1239.5 597,1239 597,1232.5 582,1232.5 581.2,1235.8 577.5,1236.5 577,1239.5 567.5,1240 567,1242.5 564.5,1242.5 563.8,1240 550.5,1240 550,1242.5 540,1243.2 539.5,1246.5 533.8,1246.5 533,1243.2 530.5,1243.2 530,1246.5 520.5,1247 520,1249.5 506.2,1250 505.5,1252.5" fill="#D5E8D4"/><polygon points="525,1094.5 540,1094 547,1095 547,1114.5 540,1115 530,1114.5 529.5,1107.5 527.5,1102 525,1100.8" fill="#F7F7F7"/><polygon points="587.5,1112 600,1112 611.2,1104.5 615,1099 630,1100.8 645,1099 657.5,1092 667.5,1094.5 675,1100.8 667.5,1104.5 662.5,1114.5 670,1117 675,1124.5 687.5,1132 691.2,1137 682.5,1139.5 675,1144.5 657.5,1148.2 650,1154.5 642.5,1160.8 633.8,1157 628.8,1156.5 623.8,1162 617.5,1163.2 611.2,1159.5 610,1168.2 584.5,1169 587.5,1177 600,1184.5 603.8,1198.2 592.5,1194.5 581.2,1188.2 570,1179.5 560,1182 550,1183.2 547.5,1178.2 540,1174.5 535,1169.5 530,1165.8 526.2,1159.5 523.8,1154 530,1147 540,1145.8 540,1139.5 570,1139 571.2,1133.2 582.5,1132 587,1127 587.5,1119.5" fill="#F7F7F7"/><polygon points="665,1177 681.2,1174.5 697.5,1174.5 718,1172 718,1240 715,1240.8 712.5,1247 695.5,1247 692.5,1251.5 688.8,1252 688,1256.5 655.5,1257 648,1249.5 650,1243.2 648.8,1235.8 657.5,1230 658,1217 665,1214.5 670,1210.8 671.2,1202 674.5,1201.5 673.8,1195.8 666.2,1192 665,1187" fill="#F7F7F7"/><polygon points="581.2,1138.2 596.2,1138.2 597,1145.8 601.2,1147 600,1150.8 596.2,1152 595.5,1155.8 593.8,1152 588.8,1151.5 581.2,1148.2" fill="#D5E8D4"/><polygon points="537.5,1152 553.8,1152 555,1155 560,1156.5 563.8,1159.5 562.5,1163.2 560,1164 563.8,1167 547,1168.2 540,1168.2 537.5,1164.5" fill="#D5E8D4"/><polygon points="583.8,1169 610,1169 610,1178.2 603.8,1178.2 600,1176.5 595,1177 592.5,1182 588.8,1182.5 587.5,1176.5 583.8,1174.5" fill="#D5E8D4"/><polygon points="550,1172 556.2,1172 556.2,1177 560,1179.5 557.5,1187 554.5,1192 552.5,1187 547.5,1186.5 547,1180.8 550,1177" fill="#D5E8D4"/><polygon points="486.2,1058.2 492.5,1058.2 493,1060.8 499.5,1061.5 499.5,1067 493,1067.5 490.5,1063.2 486.2,1062" fill="#D5E8D4"/><polygon points="500,1075 510,1075 510,1081.5 506.2,1082.5 505,1087 502.5,1090.8 493,1091.5 493,1087.5 497.5,1084.5 500,1082" fill="#D5E8D4"/><polygon points="506.2,1054.5 512.5,1054.5 512.5,1057.5 506.2,1057.5" fill="#D5E8D4"/><polygon points="402,1162 412,1162 412,1175.8 402,1175.8 402,1169.5" fill="#D5E8D4"/><polygon points="398.8,1179 405,1179 405,1185.8 398.8,1185.8" fill="#D5E8D4"/><polygon points="476.2,1240 487.5,1240 490,1244.5 485,1249.5 476.2,1249.5" fill="#F7F7F7"/><polygon points="512.5,1205.8 527,1203.2 522.5,1208.2 517,1210 516.2,1215.8 513,1215.8" fill="#F7F7F7"/><polygon points="587,1215.8 603.8,1215.8 603.8,1222 587,1219.5" fill="#F7F7F7"/><polygon points="613.8,1210 627.5,1210 628,1215 633.8,1215.8 633.8,1219.5 623.8,1220 620,1214.5 613.8,1213.2" fill="#F7F7F7"/><polygon points="695.5,1227 698,1227 698,1235.8 695.5,1235.8" fill="#D5E8D4"/><polygon points="718,1052 809.2,1052 809.2,1060.8 796.8,1061.5 793,1064.5 793,1082 799.2,1092 804.2,1088.2 816.8,1093.2 819.2,1097 815.5,1108.2 809.2,1112 803,1112 800.5,1098.2 790.5,1095.8 785.5,1092 773,1092 769.2,1083.2 753,1082 743,1089.5 745.5,1107 751.8,1112 745.5,1113.2 745.5,1138.2 741.8,1138.2 733,1134.5 725.5,1138.2 718,1138.2" fill="#D5E8D4"/><polygon points="759.2,1098.2 782.5,1098.2 783,1107 788.5,1113.2 776,1114.5 776,1122 753,1124.5 753,1122 759.2,1120.8" fill="#D5E8D4"/><polygon points="776,1132 788.5,1132 792.5,1139.5 793,1155.8 806,1156.5 810,1157 810,1161.5 806,1162 803,1169.5 803,1178.2 799.2,1182 792.5,1185.8 792.5,1189 776,1189 769.2,1185.8 769.2,1165.8 766,1164.5 766,1162 769.2,1162 769.2,1139.5 776,1139" fill="#D5E8D4"/><polygon points="981,1057.5 988,1059.5 991.8,1062 991.8,1074.5 988,1074.5 985.5,1069.5 981,1067" fill="#D5E8D4"/><polygon points="944.2,1075 951,1075 951,1077.5 944.2,1077.5" fill="#D5E8D4"/><polygon points="1008,1052 1158,1052 1158,1057 1183,1057.5 1188,1055 1201.8,1054.5 1203,1052 1238,1052 1239.2,1055 1243,1054.5 1245.5,1052 1270.5,1052 1270.5,1065.8 1274.2,1067 1275.5,1070 1280.5,1070.8 1286.8,1075 1289.2,1075.8 1289.2,1081.5 1294.2,1082.5 1294.2,1088.2 1288,1089 1288,1097 1300.5,1097.5 1301.8,1093.2 1304.2,1092.5 1306,1093.2 1306,1139 1281.8,1139.5 1281,1142 1264.2,1142.5 1262.5,1145 1261.8,1142.5 1258,1139.5 1260.5,1138.2 1261,1132.5 1263.5,1131.5 1263.5,1122.5 1261.8,1119.5 1254.2,1119 1253.5,1115 1221,1115.8 1220.5,1119 1214.2,1119.5 1211,1122.5 1210.5,1132 1206.8,1132 1204.2,1129 1203.5,1108.2 1194.2,1108.2 1192.5,1111.5 1180,1112 1179.2,1114.5 1170.5,1114.5 1169.2,1112 1153,1112 1152.5,1114.5 1147.5,1114.5 1146.8,1112.5 1143,1111.5 1126.8,1112 1125.5,1114.5 1096,1115 1093,1111.5 1092.5,1102 1083,1102 1082.5,1095 1076,1095 1075.5,1088.2 1056,1088.2 1055.5,1085 1052.5,1085 1051.8,1087.5 1045.5,1087.5 1045.5,1077 1042.5,1075.8 1042.5,1067.5 1049.2,1067 1049.2,1059.5 1031.8,1057.5 1024.2,1061.5 1008,1060.8" fill="#D5E8D4"/><polygon points="1204.2,1098.2 1209.2,1098.2 1211.8,1102 1213,1112 1212.5,1122.5 1211,1127 1210.5,1130.8 1206.8,1132 1204.2,1129" fill="#F7F7F7"/><polygon points="1222,1104 1233,1104 1233,1114 1222,1114" fill="#F7F7F7"/><polygon points="1245.5,1104.5 1254.2,1104.5 1254.2,1115 1245.5,1115" fill="#F7F7F7"/><polygon points="1158,1052 1203,1052 1201.8,1054.5 1188,1055 1183,1057.5 1158,1057" fill="#F7F7F7"/><polygon points="1270.5,1052 1306,1052 1306,1093.2 1304.2,1092.5 1301.8,1093.2 1300.5,1097.5 1288,1097 1288,1089 1294.2,1088.2 1294.2,1082.5 1289.2,1081.5 1289.2,1075.8 1286.8,1075 1280.5,1070.8 1275.5,1070 1274.2,1067 1270.5,1065.8" fill="#F7F7F7"/><polygon points="1308.5,1078.2 1312.2,1077 1316,1071.5 1318,1072 1318,1075 1328,1074.5 1329,1068.2 1331.5,1068.2 1332.2,1091.5 1338.5,1092 1339,1097.5 1342.2,1098.2 1342.2,1104.5 1334.8,1105.8 1333,1109.5 1325.5,1112 1325.5,1122 1332.2,1123.2 1335.5,1127 1335.5,1132 1341.5,1132.5 1342.2,1142 1325.5,1142 1324.8,1139.5 1322.2,1138.2 1321,1135 1313,1135 1312.2,1138.2 1306,1139 1306,1114.5 1308.5,1112 1313.5,1112 1316,1108.2 1318,1105.8 1318,1094.5 1316,1092 1312.2,1091.5 1311.5,1085 1308.5,1083.2" fill="#D5E8D4"/><polygon points="1342.2,1145.8 1351,1145.8 1352.2,1150.8 1354.8,1152.5 1349.8,1158.2 1348.5,1162 1342.2,1162" fill="#D5E8D4"/><polygon points="1652.2,1055.8 1658.5,1052 1698.5,1052 1699,1067.5 1702.2,1070.8 1708.5,1071.5 1709,1074.5 1713,1077 1722.2,1075 1723,1081.5 1728.5,1082 1729,1095 1732.2,1096.5 1728.5,1098.2 1723,1098.2 1722.2,1100.8 1716,1101.5 1713.5,1105 1709,1101.5 1702.2,1100.8 1700.5,1098.2 1697.2,1102 1697.2,1105.8 1692.2,1107.5 1689.8,1104.5 1688.5,1097.5 1691,1092 1691,1082 1688.5,1083.2 1686,1092 1682.2,1093.2 1681,1097.5 1669,1098.2 1669,1110.8 1664.8,1111.5 1661,1108.2 1658.5,1105.8 1652.2,1104.5 1634.8,1107.5 1632.2,1104.5 1628.5,1102 1628.5,1096.5 1625.5,1088.2 1622.2,1087 1621.5,1068.2 1634.8,1067.5 1638,1064 1642.2,1061.5 1646,1060.8 1646.5,1058.2" fill="#D5E8D4"/><polygon points="1628.5,1084.5 1634.8,1084.5 1634.8,1087.5 1628.5,1087.5" fill="#F7F7F7"/><polygon points="1669,1111.5 1688.5,1111.5 1688.5,1114.5 1686,1115 1685.5,1121.5 1676,1121.5 1675.5,1115 1669,1114.5" fill="#D5E8D4"/><polygon points="1760.5,1061.5 1772.2,1061.5 1773,1067 1771,1075.8 1767.2,1077 1767.2,1087.5 1770.5,1089 1771,1102 1773,1104.5 1773,1112 1770.5,1114 1764,1114 1763,1121.5 1759.8,1121.5 1759.8,1114.5 1756,1113.2 1755.5,1107 1740.5,1106.5 1740.5,1098.2 1746,1097.5 1746,1084.5 1743,1084 1746,1075.8 1760.5,1074.5 1763.5,1071.5 1763.5,1067 1760.5,1065.8" fill="#D5E8D4"/><polygon points="1856,1052 1878.5,1052 1878.5,1057.5 1873,1058.2 1872.2,1064 1881,1064.5 1881,1056.5 1894,1056.5 1894,1120.8 1891,1119.5 1881,1117 1881,1115 1868.5,1115.8 1868,1122 1862.2,1129.5 1857.2,1133.2 1856.5,1139.5 1854.8,1146.5 1859.8,1152 1856,1154.5 1851,1156.5 1848.5,1162 1842.2,1162 1838.5,1157.5 1827.2,1158.2 1824.8,1161.5 1821,1159.5 1818,1157 1818,1152 1814.8,1146.5 1813.5,1142 1807.2,1138.2 1804,1135 1804,1132.5 1813.5,1132.5 1817.2,1130 1818.5,1129 1821,1137.5 1824.8,1139 1833.5,1138.2 1833.5,1125 1836.5,1122.5 1818,1122 1817.2,1112 1827.2,1111.5 1827.2,1098.2 1842.2,1091.5 1868,1091.5 1868,1082.5 1863.5,1080 1861,1075 1857.2,1074.5 1857.2,1068.2 1861,1066.5 1863.5,1063.2 1863.5,1057 1857.2,1055.8" fill="#D5E8D4"/><polygon points="1793.5,1052 1803.5,1052 1803.5,1057.5 1793.5,1057.5" fill="#D5E8D4"/><polygon points="1487.2,1061.5 1496,1057.5 1499.8,1057.5 1499.8,1067.5 1487.2,1067.5" fill="#D5E8D4"/><polygon points="1595.5,1059.5 1604.8,1058.2 1604.8,1061.5 1599,1064.5 1595.5,1064.5" fill="#D5E8D4"/><polygon points="1574,1135 1591,1135 1591,1138.2 1587.2,1140.8 1585.5,1145.8 1581,1147 1579.8,1152 1578,1152 1578,1139 1574,1138.2" fill="#D5E8D4"/><polygon points="1595.5,1134.5 1598.5,1134.5 1599,1140.8 1604.8,1143.2 1607.2,1147.5 1611,1148.2 1611,1162 1598,1162 1598,1147 1595.5,1144.5" fill="#D5E8D4"/><polygon points="1688.5,1151.5 1699,1151.5 1699,1159 1701.5,1159.5 1701.5,1162 1699,1162.5 1698.5,1171.5 1692.2,1171.5 1692.2,1167.5 1688.5,1167" fill="#D5E8D4"/><polygon points="1608.5,1172 1611,1172 1611,1182.5 1608,1183.2 1607.2,1188.2 1604.8,1189 1604.8,1195.8 1601,1195.8 1600.5,1187 1595.5,1185.8 1595.5,1182.5 1601,1180.8 1604.8,1177" fill="#D5E8D4"/><polygon points="1716,1179 1718.5,1179 1719,1182.5 1729,1182.5 1729.8,1179 1736,1178.2 1740.5,1174.5 1740.5,1169 1743,1169 1743.5,1177 1746,1179 1740.5,1183.2 1736,1187 1736,1195.8 1739.8,1195.8 1739.8,1202 1723,1202 1723,1199.5 1716,1199.5 1715.5,1202 1709,1203.2 1708.5,1209.5 1706,1210 1705.5,1204 1699,1203.2 1699,1210 1692.2,1210 1692.2,1203.2 1699,1201.5 1699,1193.2 1701.5,1193.2 1706,1195 1707.2,1187 1710.5,1186.5 1716,1185.8" fill="#D5E8D4"/><polygon points="1770.5,1195.8 1773,1195.8 1773.5,1199.5 1781,1200.8 1784,1204.5 1787.2,1205.8 1788,1210 1793,1210.8 1793,1213.2 1787.2,1213.2 1787.2,1219.5 1784,1219.5 1782.2,1215.8 1776.5,1216.5 1776,1219.5 1773,1219.5 1772.2,1214 1766,1214.5 1763,1219 1753.5,1220 1753,1223.2 1743.5,1225 1740.5,1222 1743,1220 1746.5,1210.8 1763.5,1210 1767.2,1204.5 1770.5,1202" fill="#D5E8D4"/><polygon points="1766,1169 1773,1169 1773.5,1171.5 1779.8,1172 1779.8,1175.8 1773,1175.8 1770.5,1174 1766,1172" fill="#D5E8D4"/><polygon points="1770.5,1179 1793,1179 1793,1182.5 1789.8,1185.8 1770.5,1185.8" fill="#D5E8D4"/><polygon points="1682.2,1225.8 1688.5,1225.8 1689,1232.5 1699,1233.2 1699,1239.5 1692.2,1240 1692.2,1249.5 1682.2,1249.5 1679.8,1246.5 1678.5,1243.2 1672.2,1242.5 1671.5,1236.5 1663,1235.8 1662.2,1233.2 1678.5,1232.5 1679.8,1230" fill="#D5E8D4"/><polygon points="1652.2,1122.5 1658.5,1122.5 1658.5,1125 1652.2,1125" fill="#D5E8D4"/><polygon points="1604.8,1123.2 1609.8,1122 1610.5,1128.2 1604.8,1128.2" fill="#D5E8D4"/><polygon points="1610.5,1115.8 1614.8,1115.8 1614.8,1122 1610.5,1122" fill="#D5E8D4"/><polygon points="1483,1145.8 1487.2,1145.8 1487.2,1152 1483,1152" fill="#D5E8D4"/><polygon points="1783.5,1108.2 1787.2,1108.2 1787.2,1112 1783.5,1112" fill="#D5E8D4"/><polygon points="1793,1115.8 1796.5,1115.8 1796.5,1122 1793,1122" fill="#D5E8D4"/><polygon points="1787.2,1128.2 1793,1128.2 1793,1131.5 1787.2,1131.5" fill="#D5E8D4"/><polygon points="1746,1232.5 1749.8,1232.5 1749.8,1235.8 1746,1235.8" fill="#D5E8D4"/><polygon points="1194.2,408 1196.8,408 1196.8,414.2 1194.2,414.2" fill="#74C6BE"/><polygon points="1200.5,411 1207.5,411 1211,411.8 1211,413.5 1207.5,414.2 1206.8,418 1200.5,418" fill="#74C6BE"/><polygon points="1585.5,654.2 1588.5,654.2 1588.5,657 1585.5,657" fill="#74C6BE"/><polygon points="577.5,1001.2 583.8,1001.2 583.8,1004.5 601.2,1004.5 601.2,1010 608,1011.2 611.2,1008 611.2,1005 615,1004.5 618,1008.8 618,1011.2 641.2,1011.2 641.2,1004.5 645.5,1004.5 645.5,984.5 648.8,983.8 648.8,980.5 651.2,980.5 651.2,987.5 658,987.5 658,984.5 665,984.5 665,987 668,987 668,980 675,980 675,973.8 682.5,973.8 682.5,970.5 688.8,970 688.8,963.8 695,960 695.5,957.5 698,957 698.8,950.5 702.5,947.5 707.5,947.5 710,950.5 713.8,954.5 718,954.5 718,1052 577.5,1052" fill="#74C6BE"/><polygon points="718,953.8 721.8,951.2 729.2,950.5 729.2,953.8 722.5,954.5 721.8,957 731.8,957.5 733,963.8 736,964.5 739.2,963.8 746,963.8 746.8,957 753,956.2 753,953 756.8,950 762.5,947.5 772.5,947 773,950 789.2,950.5 790,953 794.2,952.5 800.5,950.5 803,950 803,958.8 800,960 800,963.8 796,964.5 793,963.8 789.2,965.5 792.5,968.8 793,970 799.2,970.5 800.5,973.8 810,974.5 810,980 803,980.5 803,987 810,987.5 810,990.5 800.5,991.2 799.2,993.8 793,993.8 793,980.5 783,980 782.5,977 779.2,976.2 778.5,973.8 765.5,973.8 764.2,970 760.5,970 759.2,975 755.5,975.5 755.5,980 750,980.5 750,986.2 751.8,987 751.8,993.8 743,994.5 742.5,1004.5 746,1005 746,1013.8 751.8,1014.5 751.8,1020 755.5,1021.2 756,1027.5 761.8,1028.8 761.8,1052 718,1052" fill="#74C6BE"/><polygon points="756,940 761.8,940 761.8,943 759.2,943.8 759.2,947 756,947" fill="#74C6BE"/><polygon points="806,947 810,947 810,950 806,950" fill="#74C6BE"/><polygon points="1716,838.8 1719,836.2 1723,836.2 1723,845 1728.5,845 1733.5,836.2 1736.5,836.2 1736.5,839.5 1742.2,842.5 1743,845.5 1746,846.2 1746,859.5 1749.8,860 1749.8,865.5 1746,866.2 1746,872.5 1739.8,873 1739.8,869.5 1726,869.5 1725.5,873 1723,873 1722.2,869.5 1706,869.5 1705.5,875.5 1696,875.5 1695.5,872.5 1692.2,872 1692.2,866.2 1696,865.5 1692.2,864.5 1692.2,859.5 1698.5,858.8 1699.8,852 1708.5,852 1709.8,856.2 1713.5,857.5 1716,855 1716,847.5" fill="#74C6BE"/><polygon points="1676,829.5 1681.5,829.5 1682.2,836.2 1686,836.2 1686,839.5 1679,839.5 1676,842 1672.2,842.5 1671.5,845.5 1669,845.5 1668.5,842 1664.8,842 1664.8,836.2 1676,836.2" fill="#74C6BE"/><polygon points="1604.8,842 1608,842 1608.5,845.5 1611,846.2 1611,852 1604.8,852" fill="#74C6BE"/><polygon points="1652.2,842 1659,842 1659,845.5 1652.2,845.5" fill="#74C6BE"/><polygon points="1634.8,863 1644.8,862.5 1645.5,859.5 1648.5,859.5 1648.5,868.8 1634.8,868.8" fill="#74C6BE"/><polygon points="1749.8,868.8 1756,868.8 1756,872.5 1753,873 1753,875.5 1749.8,875.5" fill="#74C6BE"/><polygon points="2245,993.8 2255,993.8 2255.8,997 2265,997.5 2265,1000.5 2261.5,1002 2261.5,1004.5 2258.2,1005 2258.2,1007.5 2261.5,1007.5 2261.5,1010.5 2258.2,1011.2 2257.5,1020 2255,1020.5 2254.5,1014.5 2251.5,1014.5 2251.5,1017 2248.2,1017 2247.5,1014.5 2245,1015 2244.5,1027.5 2241.5,1027.5 2241.5,1020 2238.2,1020 2238.2,1007.5 2230.8,1007 2231.5,1004.5 2238.2,1003.8 2238.2,997.5 2245,997" fill="#74C6BE"/><polygon points="1892,1067 1895.8,1067.5 1900.8,1067 1904.5,1067.5 1905,1075.8 1909,1075 1915,1075.8 1915,1085 1910.8,1085 1909,1081.5 1905,1081.5 1903.2,1075.8 1898.2,1075 1895.8,1074.5 1892,1074" fill="#74C6BE"/><polygon points="1898.2,1091.5 1905,1091.5 1905,1095 1898.2,1095" fill="#74C6BE"/><polygon points="1892,1060.8 1895,1060.8 1895,1064.5 1892,1064.5" fill="#74C6BE"/><polygon points="583.8,1052 611.2,1052 611.2,1057.5 593.8,1058.2 592.5,1060.8 587.5,1060.8 583.8,1057" fill="#74C6BE"/><polygon points="617.5,1052 658,1052 658,1064 651.2,1065 648.8,1070.8 642.5,1069.5 637.5,1072 637.5,1074.5 630,1074.5 627.5,1069.5 622,1064.5 617.5,1059.5" fill="#74C6BE"/><polygon points="681.2,1052 718,1052 718,1097 713.8,1097 712.5,1089.5 707.5,1089.5 705,1084.5 702.5,1089.5 697.5,1093.2 695,1089.5 692,1089.5 690,1097 685,1097 683.8,1084.5 678.8,1083.2 673.8,1080.8 667.5,1077 658.8,1077 655,1079.5 652.5,1087 651.2,1077 653.8,1075 665,1074.5 674.5,1073.2 675,1068.2 680,1065.8 682.5,1062" fill="#74C6BE"/><polygon points="627.5,1078.2 640,1077.5 641.2,1084.5 638.8,1089.5 635,1093.2 630,1092 627.5,1087" fill="#74C6BE"/><polygon points="537,1183.2 542.5,1183.2 542.5,1189.5 545,1190.8 543.8,1199.5 547,1200 547,1203.2 541.2,1205.8 540,1199.5 537,1199" fill="#74C6BE"/><polygon points="697,1104.5 701.2,1104.5 701.2,1107.5 697,1107.5" fill="#74C6BE"/><polygon points="718,1052 739.2,1052 739.2,1057.5 728.5,1058.2 725.5,1062 728.5,1065.8 728.5,1068.2 721.8,1069 718,1070.8" fill="#74C6BE"/><polygon points="1096,1068.2 1103,1068.2 1103,1082 1096,1082" fill="#74C6BE"/><polygon points="1119.2,1082 1123,1082 1123.5,1085.8 1126,1086.5 1126,1091.5 1130,1092 1130.5,1098.2 1133,1099 1133,1101.5 1126,1102 1123,1104.5 1123,1108.2 1119.2,1108.2" fill="#74C6BE"/><polygon points="1136,1099 1141,1095 1143,1098.2 1153,1099 1153.5,1103.2 1156.8,1104.5 1160,1103.2 1160.5,1101.5 1168,1099 1169.2,1102 1173,1103.2 1178,1104.5 1183.5,1104.5 1186.8,1100.8 1189.2,1098.2 1190,1108.2 1194.2,1109 1194.2,1111.5 1180,1112 1179.2,1114.5 1170.5,1114.5 1169.2,1112 1153,1112 1152.5,1114.5 1147.5,1114.5 1146.8,1110.8 1143,1108.2 1136,1107.5" fill="#74C6BE"/><polygon points="1888.5,1062 1894,1060.8 1894,1074.5 1891,1074.5 1890.5,1067.5 1888,1067" fill="#74C6BE"/><polygon points="304.2,606 311.2,603 321.2,600 335,600 335,596 341.2,593 345,593 348,595.5 348,613 355,613 355,606 358,600 362,600 362,606 367.5,606 368,600 372,600 372,593 382,593 382,599.2 377.5,602.5 375,606 371.2,610 371.2,616.8 368,616.8 365,613 365,623 358,623 354.5,627.5 351.2,630 348,633 348,636.8 341.2,636.8 338,640.5 335,643.8 331.2,646.8 331.2,643.8 321.2,643.8 321.2,640.5 317.5,637.5 314.5,633.5 311.2,630 308,630 308,623 310.5,622.5 310.5,617.5 308,616.8 308,610 304.2,609.2" fill="#FDB863"/><polygon points="361.2,583 365,583 365,595.5 361.2,595.5" fill="#FDB863"/><polygon points="503.8,576.8 510,573.5 517,573 517,582.5 510,582.5 510,580 503.8,580" fill="#FDB863"/><polygon points="593.8,660 595,655 606.2,654.2 607.5,650.5 611.2,650.5 613.8,647.5 621.2,646.8 623.8,644.2 627.5,644.2 628,655 632,656 633,660" fill="#FDB863"/><polygon points="658,660 658,638 661.2,637.5 665,630.5 675,630.5 675,640.5 678.8,641.8 681.2,645.5 665,646.8 662.5,650.5 662,660" fill="#FDB863"/><polygon points="904.2,347.5 924.2,340.5 934.2,334.2 944.2,330 981,330 980.5,334.2 970.5,338 968,341.8 968,350 965,353.8 944.2,356 930.5,361 921.8,364.2 927.5,366.8 927.5,376.8 914.2,380.5 894.2,380.5 894.2,373.5 890.5,370.5 890.5,367.5 897.5,361 904.2,360.5" fill="#FDB863"/><polygon points="897.5,384.2 911,384.2 905.5,390.5 906.8,398 921,398 921,384.2 924.2,387.5 928,393.8 933.5,398 933.5,404.2 930.5,408 944.2,408 944.2,431 948,431 948,438 928,435 928,425 921,421 904.2,420.5 904.2,413.5 897.5,413.5 897.5,401.8 894.2,400.5 894.2,391.8 897.5,391" fill="#FDB863"/><polygon points="914.2,435 918,431 921,431 921,438 928,440.5 928,448 918,448 914.2,444.2 907.5,440.5 907.5,438" fill="#FDB863"/><polygon points="867.5,387.5 870.5,387.5 871,390.5 874.2,391 874.2,393.5 867.5,393.5" fill="#FDB863"/><polygon points="887.5,404.2 894.2,404.2 894.2,407.5 887.5,407.5" fill="#FDB863"/><polygon points="853,414.2 856.8,414.2 856.8,418 853,418" fill="#FDB863"/><polygon points="1379,546 1382.2,549.2 1403,549.2 1403.5,552.5 1409,553 1409,556 1419.8,556 1419.8,553 1423,553 1423.5,563 1426,566 1443,566 1443.5,559.2 1446,559.2 1446.5,563 1449.8,563 1453,566 1453.5,580 1457.2,580.5 1459.8,584.2 1459.8,589.2 1457.2,590.5 1456.5,595.5 1453,596 1452.2,602.5 1443,602.5 1443,600 1429.8,600 1429.8,590.5 1423,586.8 1414,586 1413.5,590.5 1416,592.5 1416,596 1426,596 1426,599.2 1419.8,600.5 1413,603 1413,606 1396,606 1396,596 1389,595.5 1388.5,590.5 1379,589.2 1379,579.2 1372.2,579.2 1369,573.5 1378.5,572.5 1379,569.2 1386,568 1392.2,565.5 1392.2,562.5 1389,559.2 1388.5,556 1386,555.5 1382.2,552.5 1379,549.2" fill="#FDB863"/><polygon points="1358.5,590.5 1379,590 1382.2,593 1382.2,599.2 1378.5,600.5 1376,605.5 1354.8,605.5 1354.8,596 1358.5,595.5" fill="#FDB863"/><polygon points="1318,593 1324.8,593 1324.8,598 1328,598.5 1328,602.5 1318,599.2" fill="#FDB863"/><polygon points="1436,549.2 1439.8,549.2 1439.8,553 1436,553" fill="#FDB863"/><polygon points="1342.2,590 1345.5,590 1345.5,593 1342.2,593" fill="#FDB863"/><polygon points="1469.8,602.5 1477.2,600.5 1499.8,600 1500.5,596 1517.2,595.5 1518,590.5 1521.5,586 1530.5,586 1531,589.2 1534,589.2 1534.8,586 1537.2,586 1541,589.2 1541,580 1547.2,580 1547.2,573 1553.5,573 1553.5,582.5 1550.5,586 1547.2,590.5 1548,595.5 1552.2,593 1559,590.5 1567.2,590 1568,596 1571,603 1571,628 1574.8,630 1578.5,635.5 1579.8,640.5 1584.8,645.5 1586,653 1595.5,654.2 1596,660 1516,660 1513.5,656.8 1499.8,653 1499.8,646.8 1490.5,646.8 1489.8,640 1478,637.5 1477.2,628 1473.5,626.8 1471,623 1469.8,615.5 1470.5,609.2" fill="#FDB863"/><polygon points="1453,606 1466,603 1468.5,605.5 1461,608 1459.8,619.2 1453.5,619.2 1450.5,614.2" fill="#FDB863"/><polygon points="1611,600 1614.8,600.5 1616,603 1623,604.2 1627.2,608 1628,625.5 1623,626 1621.5,620 1616,620.5 1615.5,625.5 1610.5,626 1609.8,620.5 1611.5,616.8" fill="#FDB863"/><polygon points="1591,610 1597.2,610 1598,613.5 1591,613.5" fill="#FDB863"/><polygon points="1588,630 1597.2,630 1596,636.8 1591,643 1588.5,643" fill="#FDB863"/><polygon points="1634.8,590.5 1640.5,590.5 1642.2,593 1648.5,593 1649,590.5 1652.2,590.5 1652.2,600 1634.8,600" fill="#FDB863"/><polygon points="1699.8,593 1706,590 1716,589.2 1716.5,586 1720.5,583.5 1725.5,583.5 1726,589.2 1723.5,595.5 1728.5,593 1732.2,593 1733,618 1736,618 1739.8,620.5 1740.5,629.2 1746,627.5 1746.5,636.8 1740.5,638 1746,640.5 1750.5,640.5 1753,660 1716,660 1715.5,653 1712.2,649.2 1706,638 1699.8,634.2 1693.5,630.5 1688.5,631.8 1686,638.5 1682.2,643 1676,643 1673.5,638 1668,638.5 1666,645.5 1651,644.2 1645.5,645.5 1644.8,653 1639.8,653 1636,650.5 1633,648 1636,640.5 1638.5,638 1642.2,633 1642.2,630.5 1652.2,628 1658.5,627.5 1662.2,623 1665.5,630.5 1668.5,633 1672.2,631.8 1676,623 1681,622.5 1686,618 1688,613 1692.2,606 1699,600.5 1702.2,595.5" fill="#FDB863"/><polygon points="1318,637.5 1344.8,636.8 1348.5,640.5 1354.8,644.2 1366,644.2 1369.8,637.5 1378.5,637.5 1382.2,644.2 1381.5,654.2 1388.5,654.2 1389.8,647.5 1396,647.5 1398.5,660 1318,660" fill="#FDB863"/><polygon points="1406,654.2 1416,654.2 1416,660 1406,660" fill="#FDB863"/><polygon points="1604.8,344.2 1611,344.2 1611,350 1604.8,350" fill="#FDB863"/><polygon points="594.5,660 623.8,660 623.8,680.5 620.5,681.2 620.5,687 617.5,687.5 617.5,701.2 614.5,702 614.5,708 617.5,708.8 617.5,711.2 607.5,711.2 607,713.8 601.2,714.5 601.2,717.5 591.2,718 591.2,720 587,720.5 587,723.8 570.5,723.8 570,727 567,727.5 566.2,730.5 563.8,731.2 563.8,733.8 557.5,733.8 560,730.5 560.5,718 577,717.5 577,708 581.2,707.5 581.2,701.2 577.5,700.5 577.5,703 564.5,703 564.5,700 560.5,699.5 560.5,697 563.8,696.2 563.8,692.5 570,692 570,684.5 567,683.8 567.5,683 570,682.5 570.5,670 581.2,670 582,667 583.8,667 583.8,670 587,670 587.5,667 594.5,667" fill="#FDB863"/><polygon points="618,724.5 620.5,724.5 620.5,727.5 623.8,727.5 624.5,731.2 627.5,731.2 628,734.5 633.8,737.5 633.8,758 627.5,758 627.5,765 618,765 617.5,775 610.5,775 610.5,788 601.2,788 601.2,782 584.5,782 583.8,777.5 581.2,772.5 564.5,772.5 563.8,775 554.5,775 554.5,765 547.5,764.5 547.5,761.2 551.2,758.8 557.5,758 557.5,755 564.5,755 564.5,751.2 577,751.2 577,755 587.5,754.5 587.5,748 601.2,747.5 601.2,741.2 603.8,741.2 604.5,745 607.5,745 607.5,741.2 611.2,740.5 611.2,731.2 614.5,731.2 615,727.5 618,727" fill="#FDB863"/><polygon points="466.2,708 476.2,708 476.2,717.5 472.5,718 469.5,721.2 469.5,728 473,731.2 490,731.2 490,735 493,735 493,740.5 490,741.2 490,751.2 482.5,751.2 482.5,755 476.2,755 476.2,751.2 469.5,751.2 468.8,748 459.5,747.5 459.5,745 463,744.5 463,735 459.5,734.5 457.5,740 449.5,740.5 449.5,731.2 452.5,730.5 452.5,718 456.2,717.5 456.2,714.5 459.5,711.2 466.2,711.2" fill="#FDB863"/><polygon points="426.2,677 438.8,677 438.8,686.2 435.5,687 435.5,690.5 428.8,690.5 428.8,687 426.2,687" fill="#FDB863"/><polygon points="415,683.8 418.8,683.8 418.8,690.5 415,690.5" fill="#FDB863"/><polygon points="419.5,693.8 428.8,693.8 428.8,697 425,697.5 425,700.5 419.5,700.5" fill="#FDB863"/><polygon points="648.8,670 651.2,670 651.2,677 665,677 665,683.8 658,684.5 658,697 667.5,697 668,700.5 675,701.2 675,707.5 658,707.5 658,700.5 651.2,700 651.2,693.8 641.2,693.8 641.2,684.5 648.8,683.8" fill="#FDB863"/><polygon points="641.2,713.8 647.5,713.8 647.5,718 641.2,718" fill="#FDB863"/><polygon points="611.2,852 620.5,852 623.8,855.5 623.8,858.8 611.2,858.8" fill="#FDB863"/><polygon points="677.5,765 682,765 682,775 677.5,775" fill="#FDB863"/><polygon points="341.2,873 347.5,873 347.5,882.5 355,883 355,886.2 358,886.2 358,892.5 355,893 355,902 351.2,902.5 351.2,905.5 345,906.2 345,913 341.2,913 341.2,909.5 338,908.8 338,906.2 335,905.5 331.2,902 324.5,900 323.8,886.2 331.2,886.2 331.2,879.5 335,877 341.2,876.2" fill="#FDB863"/><polygon points="304.5,923 308,923 308,932.5 318,933 318,930 323.8,930 323.8,940 335,940 335,953 331.2,953 331.2,963.8 324.5,963.8 323.8,957 321.2,956.2 321.2,950.5 314.5,950.5 314.5,947.5 318,947 318,940 304.5,939.5 301.2,937.5 301.2,927 304.5,926.2" fill="#FDB863"/><polygon points="345,927 350.5,927 351.2,930 358,930.5 358,940 351.2,940 347.5,943 347.5,946.2 345,946.2 344.5,942.5 341.2,942 341.2,930 345,930" fill="#FDB863"/><polygon points="372,980 388,980 388,991.2 382,992.5 382,1000.5 378.8,1000.5 378,997 372,996.2 372,993.8 378,992.5 378,985.5 372,985.5" fill="#FDB863"/><polygon points="313.8,964.5 318,964.5 318,973.8 313.8,973.8" fill="#FDB863"/><polygon points="385,903 388.8,900 392,900 392,906.2 388,907 388,910 385,910" fill="#FDB863"/><polygon points="493,906.2 500,906.2 500.5,910 506.2,910 506.2,903.8 510,903 510,906.2 517,903 523.8,900.5 530,900.5 533,903.8 533,910 537,910 537,916.2 532.5,916.2 530,922.5 510,922.5 510,920 503.8,920 500.5,923 500.5,913 496.2,912.5" fill="#FDB863"/><polygon points="517,888.8 523,888.8 523,893 517,893" fill="#FDB863"/><polygon points="517,883.2 520,883.2 520,886.2 517,886.2" fill="#FDB863"/><polygon points="896.8,805 903.5,805 904.2,812 906.8,812.5 906.8,821.2 900.5,822 900.5,825 896.8,825" fill="#FDB863"/><polygon points="916.8,822 920.5,822 920.5,835 923.5,836.2 923.5,838.8 916.8,839.5 916.8,842 914.2,842 911,838 911,836.2 914.2,835 914.2,829.5 916.8,828.8" fill="#FDB863"/><polygon points="941,812 944.2,812 944.2,818.8 951,818.8 951,822 944.2,822.5 944.2,828.8 938,828.8 938,815 941,814.5" fill="#FDB863"/><polygon points="944.2,828.8 955,828.8 955,836.2 944.2,836.2" fill="#FDB863"/><polygon points="951,838.8 960.5,838.8 961,845.5 968,846.2 968,858.8 971,859.5 971,868.8 965,868.8 964.2,866.2 960.5,867 955,868.8 954.2,873 951,873 951,855.5 948,855 948,852 951,851.2" fill="#FDB863"/><polygon points="960.5,875.5 970.5,875.5 971,878.8 975,879.5 975,883 960.5,883" fill="#FDB863"/><polygon points="931,852 938,848.8 938,852 934.2,852.5 933.5,855.5 931,855.5" fill="#FDB863"/><polygon points="934.2,863 938,863 938,866.2 934.2,866.2" fill="#FDB863"/><polygon points="876.8,825 880,825 880,828.8 876.8,828.8" fill="#FDB863"/><polygon points="968,818.8 971,818.8 971,822 968,822" fill="#FDB863"/><polygon points="1093,922.5 1103,922.5 1103,930 1093,930" fill="#FDB863"/><polygon points="1103,933 1106.8,930 1109.2,930 1109.2,933 1115.5,933 1116,937 1120,937 1120,940 1103,940" fill="#FDB863"/><polygon points="1099.2,940 1103,940 1103,943 1099.2,943" fill="#FDB863"/><polygon points="1071.8,973.8 1085.5,973.8 1086,977 1088.5,977.5 1088.5,980 1085.5,980.5 1085.5,983.8 1079.2,983.8 1079.2,980 1071.8,980" fill="#FDB863"/><polygon points="1126,987 1130,986.2 1133,980 1136,980 1136,993.8 1126,993.8" fill="#FDB863"/><polygon points="1156.8,947 1159.2,947 1160,952.5 1166.8,953 1167.5,950 1173.5,950 1173.5,953 1170,953.8 1170,956.2 1166.8,957 1166.8,980 1153,980 1153,967 1150,966.2 1150,960 1153,959.5 1153,950 1156.8,950" fill="#FDB863"/><polygon points="1140,963.8 1143,963.8 1143,970 1140,970" fill="#FDB863"/><polygon points="1280.5,765 1284.2,764.5 1285.5,761.2 1289.2,758 1291,758 1291.8,765 1295,765 1295,768 1288,768.8 1288,772 1280.5,772" fill="#FDB863"/><polygon points="1318,660 1359,660 1359,670 1371.5,670 1371.5,660 1406,660 1406,663.8 1409,670 1409,683.8 1413,685 1413.5,693.8 1419,694.5 1419.8,701.2 1426,705 1429.8,707.5 1429.8,701.2 1446,700.5 1446,693.8 1453.5,692.5 1457.2,685 1457.2,677.5 1460.5,674.5 1467.2,674.5 1469.8,677 1479,674.5 1491,674.5 1494,677 1491,680.5 1491,684.5 1497.2,684.5 1497.2,693.8 1504,694.5 1506.5,697.5 1506.5,701.2 1503.5,702.5 1503,707.5 1499.8,708 1499,718 1497.2,717.5 1494.8,711.2 1484.8,710 1483.5,707.5 1477.2,706.2 1471,707.5 1464.8,707.5 1462.2,710 1456,708.8 1451,708 1442.2,708.8 1439.8,711.2 1439.8,717.5 1419.8,717.5 1419,720 1416,720.5 1416,716.2 1413,716.2 1413,723.8 1408.5,723.8 1408.5,720 1406,718 1392.2,717.5 1389.8,714.5 1372.2,713.8 1372.2,708.8 1369,707.5 1366,704.5 1361,703.8 1353.5,702.5 1351,700 1339,699.5 1336,696.2 1336,693.8 1344.8,693.8 1346,692.5 1347.2,690 1349,689.5 1349,687.5 1342.2,687.5 1342.2,678 1339,677.5 1338.5,683.8 1330.5,684.5 1328.5,687 1324.8,688 1322.2,687.5 1318,685" fill="#FDB863"/><polygon points="1523.5,660 1588.5,660 1588.5,677 1578.5,677.5 1571,683.8 1567.2,678.8 1558,677 1557.2,670 1554,670 1553.5,687.5 1551,690 1544.8,690 1543.5,687.5 1539.8,686.2 1535.5,687.5 1534.8,692.5 1517.2,693 1517.2,687 1521,684.5 1541,683.8 1541,677.5 1537.2,675 1534,672.5 1534,670 1521,669.5 1521,667 1523.5,666.2" fill="#FDB863"/><polygon points="1537.2,701.2 1540.5,701.2 1541,708.8 1543.5,712.5 1547.2,713.8 1547.2,723.8 1543,725 1542.2,727.5 1537.2,723.8 1537.2,718 1539.8,716.2 1539.8,712.5 1534,710 1534,707.5 1537.2,707" fill="#FDB863"/><polygon points="1491,721.2 1494,721.2 1494,724.5 1499.8,724.5 1499.8,731.2 1493.5,732.5 1486,734.5 1482.2,736.2 1478.5,740.5 1478,746.2 1482.2,750 1483,760 1486,762 1486,765 1484,766.2 1483.5,771.2 1487.2,770 1490.5,766.2 1494,765 1494,772 1506.5,772 1507.2,782 1500.5,782.5 1499.8,787.5 1503.5,788.8 1503.5,796.2 1498.5,797 1494.8,795 1483.5,794.5 1483.5,789.5 1481,788.8 1481,795 1490.5,797 1494,798.8 1489.8,802.5 1486.5,805 1483,805.5 1483.5,812 1479.8,812.5 1479.8,815 1473,815 1471,812 1466,813 1462.2,816.2 1462.2,818.8 1449.8,818.8 1447.2,822 1443,822 1441,820 1440.5,808.8 1436.5,802.5 1433.5,798.8 1429,796.2 1426,795 1424.8,787.5 1419.8,785 1419.8,778 1422.2,777.5 1423,765 1429.8,761.2 1430.2,741.2 1436,741.2 1442.2,747 1446.5,750 1453.5,748.8 1453.5,742 1463,740.5 1464,734.5 1467.2,731.2 1478,730 1478,727.5 1490.5,727.5 1490.5,724.5" fill="#FDB863"/><polygon points="1388.5,733.8 1392.2,734.5 1392.2,739.5 1394.8,740 1394.8,746.2 1398.5,747.5 1398.5,750.5 1396,751.2 1396,757.5 1388.5,758 1388.5,754.5 1392.2,753 1392.2,750.5 1388.5,750" fill="#FDB863"/><polygon points="1517.2,836.2 1521.5,836.2 1521.5,829.5 1524,829.5 1524,836.2 1533.5,837 1533.5,840.5 1526,841.2 1526,849.5 1523.5,849.5 1523.5,841.2 1517.2,840.5" fill="#FDB863"/><polygon points="1517.2,852 1523.5,852 1523.5,855.5 1517.2,855.5" fill="#FDB863"/><polygon points="1527.2,849.5 1531,849.5 1531,852 1527.2,852" fill="#FDB863"/><polygon points="1396,967 1406,967 1406,986.2 1396,986.2" fill="#FDB863"/><polygon points="1446,947 1449.8,947 1449.8,976.2 1452.2,977 1452.2,980 1447.2,979.5 1443.5,973.8 1443,967 1439.8,966.2 1439.8,963.8 1446,963" fill="#FDB863"/><polygon points="1757.2,681.2 1763,681.2 1766,687.5 1766,697 1759.8,697.5 1759.8,710 1740.5,710 1740.5,701.2 1744,697.5 1746.5,693.8 1753.5,690 1753.5,685 1757.2,684.5" fill="#FDB863"/><polygon points="1628.5,660 1638.5,660 1637.2,663.8 1632.2,665.5 1631,668.8 1628.5,668.8" fill="#FDB863"/><polygon points="1729.8,660 1733.5,660 1733.5,663.8 1729.8,663.8" fill="#FDB863"/><polygon points="1739.8,660 1746,660 1746,667 1741,667" fill="#FDB863"/><polygon points="1362.2,1042 1376,1038.8 1382.2,1038.8 1388.5,1041.2 1388.5,1052 1362.2,1052" fill="#FDB863"/><polygon points="1809.8,900.5 1814,900.5 1814,909.5 1809.8,909.5" fill="#FDB863"/><polygon points="1349,818.8 1352.2,818.8 1352.2,822 1349,822" fill="#FDB863"/><polygon points="1443,822 1446.5,822 1446.5,825 1443,825" fill="#FDB863"/><polygon points="1369.8,993.8 1372.2,993.8 1372.2,997 1369.8,997" fill="#FDB863"/><polygon points="1031.8,1064.5 1035.5,1067.5 1042.5,1067.5 1042.5,1082 1039.2,1082 1039.2,1075.8 1031.8,1075" fill="#FDB863"/><polygon points="1366,1052 1389,1052 1389,1067.5 1392.2,1068.2 1392.2,1075 1399,1075.8 1399,1081.5 1396,1082 1396,1097.5 1389,1097.5 1389,1075 1379.8,1074.5 1379,1068.2 1375.5,1067.5 1372.2,1063.2 1366.5,1060.8" fill="#FDB863"/><polygon points="1436,1052 1439.8,1052 1439.8,1054.5 1436,1054.5" fill="#FDB863"/><polygon points="1588,616.8 1591,613.5 1597.2,613.5 1598,616.8 1606,617.5 1608.5,620.5 1606,626 1598,626.8 1597.2,630 1591,630 1588,626" fill="#7F7F7F"/><polygon points="1746,626.8 1753.5,626.8 1753.5,660 1746,660" fill="#7F7F7F"/><polygon points="1564,603 1571,603 1571,606 1564,606" fill="#7F7F7F"/><polygon points="372,974.5 388,974.5 388,980 372,980" fill="#7F7F7F"/><polygon points="348,893 351.2,893 351.2,896.2 355,896.2 355,900 348,900" fill="#7F7F7F"/><polygon points="351.2,940.5 358,940 361.2,943.8 365,947.5 372,947.5 372,950 365,950 365,953 355,953 358,949.5 355,946.2 351.2,943.8" fill="#7F7F7F"/><polygon points="506.2,903 510,903 513,906.2 513,913 506.2,913" fill="#7F7F7F"/><polygon points="1071.8,980 1079.2,980 1079.2,983.8 1071.8,983.8" fill="#7F7F7F"/><polygon points="1553.5,670 1557.2,670 1558,677 1567.2,678.8 1571,683.8 1578.5,677.5 1588.5,677 1591,677 1591,683.8 1588,684.5 1588,690.5 1571,690.5 1570.5,687.5 1564,687.5 1563.5,693.8 1554.8,693.8 1553.5,690.5 1551,690" fill="#7F7F7F"/><polygon points="1588.5,660 1594.8,660 1594.8,677 1588.5,677" fill="#7F7F7F"/><polygon points="1430.2,741.2 1436,741.2 1441,747.5 1446.5,751.2 1453.5,748.8 1466,748 1466,751.2 1459,752.5 1455.5,755.5 1453,758 1453,764.5 1443,765 1443,768 1440.5,768.8 1442.2,775 1436.5,775 1436,768 1430.2,767.5" fill="#7F7F7F"/><polygon points="1499.8,782.5 1509.8,782.5 1509.8,788 1503.5,788.8 1499.8,787.5" fill="#7F7F7F"/><polygon points="1497.2,792.5 1500.5,792 1503.5,795.5 1499.8,797 1498.5,802 1494,802 1494,797" fill="#7F7F7F"/><polygon points="1469.8,802 1488.5,802 1488.5,805.5 1486,806.2 1486,811.2 1483,811.2 1482.2,805.5 1469.8,805.5" fill="#7F7F7F"/><polygon points="1382.2,741.2 1388.5,741.2 1388.5,745 1392.2,746.2 1392.2,750 1388.5,750.5 1388.5,755 1382.2,757.5 1382.2,754.5 1386,752.5 1384,748 1382.2,746.2" fill="#7F7F7F"/><polygon points="1366,1040.5 1371.5,1040.5 1371.5,1043.8 1366,1043.8" fill="#7F7F7F"/><polygon points="1031.8,1057.5 1049.2,1057.5 1049.2,1060.8 1043,1061.5 1042.5,1067.5 1035.5,1067.5 1031.8,1064.5" fill="#7F7F7F"/><polygon points="540,930 840,930 840,1130 540,1130" fill="#D5E8D4"/><polygon points="540,930 634.39,930 634.39,932.55 638.21,932.81 638.21,953.21 641.4,953.6 641.4,956.79 644.59,956.79 644.85,946.58 647.78,946.33 647.78,942.76 650.71,942.5 650.71,939.95 647.78,939.57 647.78,932.55 644.59,932.3 644.59,930 786.17,930 786.17,939.57 783.37,939.57 782.98,937.02 779.16,936.63 778.78,933.19 773.16,933.19 772.78,936.63 762.19,936.63 761.94,933.19 756.2,933.19 756.2,939.95 752.37,939.95 752.37,946.84 745.99,947.22 745.61,949.77 736.17,949.77 735.79,947.22 729.03,947.22 728.78,939.95 705.18,939.95 704.8,933.19 702.24,933.19 701.99,936.63 698.16,937.02 695.36,939.95 694.97,943.01 692.04,943.39 691.79,946.58 688.21,946.58 687.96,943.39 682.22,943.39 681.84,939.95 678.39,939.95 678.39,946.58 681.84,949.39 685.41,949.77 685.41,952.7 695.36,953.21 694.97,957.04 678.39,957.04 678.39,963.8 657.98,964.18 657.98,969.8 645.23,969.8 645.23,967.24 650.97,966.99 650.97,964.18 641.4,964.18 641.4,969.8 634.39,970.18 634.13,973.62 628.01,974.01 628.01,947.22 620.99,947.22 620.99,943.39 618.06,943.39 618.06,946.84 604.03,947.22 604.03,949.77 600.97,949.77 600.59,947.22 594.21,947.22 594.21,952.96 587.19,953.21 587.19,963.42 584.01,963.8 584.01,966.99 576.99,964.18 576.99,974.01 580.82,974.01 581.07,970.18 584.01,969.8 586.94,967.24 587.19,969.8 594.21,969.8 594.21,973.62 596.76,974.01 596.76,979.74 594.21,980 594.21,990.59 587.19,990.97 586.94,987.14 569.97,987.4 569.97,1003.98 554.29,1004.23 554.03,1006.53 550.2,1007.17 550.2,1010.99 547.02,1010.99 547.02,1013.55 540,1013.55" fill="#F7F7F7"/><polygon points="822.53,930 840,930 840,997.35 837.19,997.6 837.19,1000.79 833.11,1000.41 833.11,987.4 825.97,987.14 825.71,980 809.77,980 810.15,977.19 816.15,976.94 816.15,974.01 819.97,973.62 819.97,970.18 822.91,969.8 822.91,957.04 809.77,956.79 809.77,953.21 819.97,952.96 819.97,939.95 812.96,939.57 812.96,937.02 822.53,936.63" fill="#F7F7F7"/><polygon points="833.37,1004.23 840,1003.98 840,1130 833.37,1130" fill="#F7F7F7"/><polygon points="606.96,976.94 628.01,976.94 628.01,980 624.18,980 623.93,993.78 620.99,994.03 620.99,996.96 603.78,996.96 603.78,990.97 607.35,990.97 607.35,980 606.96,979.74" fill="#F7F7F7"/><polygon points="540,1013.55 557.22,1013.55 564.23,1020.82 569.97,1028.21 569.97,1033.95 564.23,1034.34 560.41,1039.69 564.23,1040.97 564.23,1057.81 554.03,1061.12 554.03,1067.76 547.02,1068.01 547.02,1074.77 540,1074.77" fill="#F7F7F7"/><polygon points="540,1040.97 547.02,1040.97 547.02,1055 540,1055" fill="#D5E8D4"/><polygon points="540,1074.77 547.02,1074.77 563.98,1074.77 564.23,1082.04 569.97,1082.04 569.97,1084.97 564.23,1085.36 560.41,1088.16 560.41,1091.35 563.98,1091.73 563.98,1104.74 560.41,1105 560.41,1107.93 554.03,1108.32 554.03,1111.38 550.2,1111.76 549.95,1114.69 547.02,1114.95 547.02,1098.37 540,1098.11" fill="#F7F7F7"/><polygon points="587.19,1104.74 610.79,1104.74 613.98,1101.56 617.81,1098.37 618.06,1101.56 628.01,1101.56 628.01,1105 633.75,1104.74 634.13,1101.56 641.02,1101.17 641.4,1098.37 654.8,1098.11 654.8,1094.54 657.98,1094.54 658.37,1088.16 661.17,1088.16 661.43,1091.73 667.55,1091.99 667.81,1095.18 671.38,1095.56 671.38,1098.11 674.95,1098.37 674.95,1101.56 668.19,1101.94 667.81,1105 665,1105.38 665,1107.93 657.98,1108.32 657.98,1111.76 661.17,1112.14 661.17,1114.69 654.8,1114.95 654.8,1118.52 650.71,1118.78 650.71,1121.33 638.21,1121.71 637.96,1125.15 634.64,1125.41 634.64,1130 587.19,1130 586.94,1118.78 593.57,1118.52 593.83,1114.95 596.76,1114.69 596.76,1111.76 587.19,1111.76" fill="#F7F7F7"/><polygon points="681.84,1098.11 685.15,1098.11 685.15,1111.76 681.84,1111.76" fill="#F7F7F7"/><polygon points="735.79,1105 738.98,1105 738.98,1111.38 742.17,1111.76 742.17,1114.69 745.61,1114.69 745.61,1112.14 751.99,1111.76 751.99,1108.32 745.61,1107.93 745.61,1095.18 742.17,1091.99 748.93,1091.73 748.93,1085.36 751.99,1084.97 751.99,1082.04 768.95,1082.04 768.95,1087.91 772.78,1088.16 773.16,1091.73 788.72,1091.99 788.98,1094.54 793.19,1094.8 793.19,1097.35 800.2,1097.73 803.01,1098.11 803.01,1104.74 800.2,1105 800.2,1107.55 802.76,1107.93 803.01,1111.38 809.77,1111.38 809.77,1107.93 816.15,1107.55 816.15,1098.11 819.97,1097.73 819.97,1095.56 816.15,1095.18 816.15,1091.99 810.15,1091.73 809.77,1088.16 803.01,1088.16 803.01,1095.18 800.2,1094.8 799.95,1088.42 796.12,1088.16 796.12,1082.42 792.81,1082.04 792.81,1064.95 795.74,1064.57 796.12,1061.12 810.15,1060.74 810.15,1044.16 816.15,1043.78 816.15,1040.97 822.91,1041.22 822.91,1050.54 827.63,1050.54 827.63,1041.22 830.18,1040.97 830.18,1038.16 833.11,1037.78 833.37,1130 735.79,1130" fill="#F7F7F7"/><polygon points="759.39,1105.38 768.95,1105 769.34,1098.37 782.98,1098.11 782.98,1107.93 786.17,1108.32 788.72,1113.67 775.97,1113.67 775.71,1121.33 768.95,1121.58 759.39,1118.78" fill="#D5E8D4"/><polygon points="738.34,1128.98 745.61,1128.98 745.61,1130 738.34,1130" fill="#D5E8D4"/><polygon points="752.37,1121.96 768.95,1121.96 768.95,1124.52 752.37,1124.52" fill="#D5E8D4"/><polygon points="698.16,949.77 701.99,949.77 702.24,947.22 709.01,947.22 709.39,949.77 712.19,950.15 712.45,953.21 715,953.6 715.38,956.79 718.57,956.79 719.21,953.21 721.76,952.96 722.14,957.04 731.96,957.04 732.35,963.8 735.79,964.18 736.17,966.73 738.72,966.73 738.98,964.18 745.99,963.8 746.38,957.04 752.37,956.79 752.37,953.21 756.2,952.96 756.2,950.15 762.19,949.77 762.58,947.22 772.78,947.22 773.16,950.15 788.98,950.15 789.36,953.21 800.2,952.96 800.2,950.15 803.01,950.15 803.01,959.59 800.2,959.97 800.2,963.42 796.38,963.8 796.12,957.04 793.83,957.04 793.57,963.42 789.36,963.8 789.36,966.73 793.19,967.24 793.57,970.18 800.2,970.56 800.2,974.01 809.77,974.39 809.77,979.74 803.01,980 803.01,987.14 809.77,987.4 809.77,990.97 800.2,990.97 799.95,993.78 793.19,993.78 793.19,980 783.37,979.74 782.98,976.94 779.16,976.56 778.78,974.01 766.02,974.01 765.77,970.56 762.19,970.18 761.94,973.11 756.2,973.62 755.82,979.74 752.37,979.74 751.99,976.94 749.18,976.94 749.18,987.14 751.99,987.4 751.99,993.78 742.17,994.03 742.17,1003.72 745.61,1003.98 745.99,1013.93 751.99,1014.18 752.37,1020.82 755.82,1021.2 756.2,1027.96 761.94,1028.21 761.94,1033.95 759.39,1034.34 759.13,1037.4 761.94,1037.78 761.94,1040.97 759.13,1041.22 759.13,1043.78 761.94,1044.16 761.94,1050.54 738.98,1050.92 738.72,1057.55 725.2,1057.81 724.95,1064.95 728.78,1065.2 728.78,1067.76 722.14,1068.01 721.76,1070.56 712.19,1070.94 711.94,1065.2 709.01,1064.95 709.01,1075.15 711.94,1075.41 712.19,1087.91 715,1088.16 714.74,1097.73 712.19,1097.73 711.94,1094.54 709.39,1094.29 709.01,1092.24 705.18,1091.99 704.8,1101.94 701.99,1101.94 701.99,1091.73 705.18,1091.35 705.18,1088.16 692.04,1088.16 692.04,1091.73 694.97,1092.24 694.97,1097.73 692.04,1097.73 691.79,1095.18 688.21,1094.8 687.96,1097.73 685.15,1097.73 685.15,1084.97 681.84,1084.59 681.58,1081.79 675.2,1081.53 674.95,1078.21 671.12,1078.21 671.12,1081.53 657.98,1081.79 657.98,1084.59 654.8,1084.97 654.54,1087.91 651.22,1087.91 651.22,1075.15 654.8,1075.15 654.8,1078.21 665,1078.21 665.26,1075.15 674.95,1074.77 675.2,1070.94 678.39,1068.01 684.77,1067.76 684.77,1065.2 681.84,1064.95 681.84,1051.17 684.77,1050.92 685.15,1044.16 687.96,1043.78 687.96,1041.22 675.2,1040.97 674.95,1037.78 671.38,1037.4 671.38,1031.4 668.19,1031.02 668.19,1028.21 670.74,1027.96 670.74,1021.2 668.19,1020.82 667.93,1010.99 658.37,1010.61 657.98,997.35 651.22,996.96 651.22,987.4 657.98,987.14 658.37,984.21 664.74,983.83 665,987.14 667.93,987.14 668.19,980.38 674.95,980 675.2,974.01 681.84,974.01 682.22,970.18 691.79,969.8 692.04,964.18 687.96,963.8 688.21,960.36 694.97,959.97 695.36,957.04 698.16,956.79" fill="#74C6BE"/><polygon points="576.99,1001.17 584.01,1001.17 584.39,1003.98 600.97,1003.98 601.22,1010.99 606.96,1011.38 606.96,1016.73 601.22,1016.99 601.22,1020.82 613.98,1020.82 613.98,1014.18 611.17,1013.93 611.17,1007.17 614.23,1006.79 614.62,1003.98 618.06,1003.98 618.06,1010.99 641.02,1010.99 641.4,1004.23 645.23,1003.98 645.23,994.41 641.4,994.03 641.4,984.21 644.85,983.83 645.23,987.14 648.16,987.14 648.16,980 650.97,980 650.97,1003.98 650.71,1010.61 657.98,1010.99 658.37,1016.99 664.74,1017.37 664.74,1023.75 661.17,1024.13 661.17,1027.96 664.74,1028.21 664.74,1033.57 658.62,1033.95 658.37,1037.78 664.74,1038.16 665,1033.95 667.55,1033.95 667.93,1044.16 670.74,1044.54 670.74,1047.6 665,1047.98 664.74,1050.92 657.98,1051.17 657.98,1064.57 650.97,1064.95 650.97,1070.56 645.23,1070.94 644.85,1068.01 641.4,1067.5 641.02,1064.95 638.21,1064.95 637.96,1070.94 641.02,1071.33 640.77,1074.77 628.01,1074.77 628.01,1068.01 624.18,1067.76 623.93,1064.95 620.99,1064.57 620.99,1060.74 618.06,1060.74 618.06,1047.98 620.99,1047.6 621.38,1044.16 623.93,1043.78 623.93,1041.22 618.06,1040.97 618.06,1033.95 611.17,1033.57 610.79,1028.21 604.03,1028.21 603.78,1030.77 594.21,1031.02 594.21,1033.95 596.76,1034.34 596.76,1037.78 587.19,1037.78 586.94,1033.95 580.82,1033.95 580.82,1031.4 576.99,1031.02 576.99,1027.96 580.82,1027.58 580.82,1024.13 576.99,1023.75" fill="#74C6BE"/><polygon points="628.01,1038.16 634.13,1038.16 634.39,1047.98 637.96,1048.37 637.96,1050.92 628.01,1050.92" fill="#D5E8D4"/><polygon points="576.99,1034.34 580.82,1034.34 581.07,1037.4 584.01,1037.78 584.39,1040.97 586.94,1041.22 586.94,1043.78 584.01,1044.16 584.01,1050.54 576.99,1050.54" fill="#74C6BE"/><polygon points="587.19,1044.16 610.79,1044.16 610.79,1057.55 594.21,1057.55 593.83,1060.74 587.19,1060.74 587.19,1057.55 584.39,1057.55 584.39,1051.17 587.19,1050.92" fill="#74C6BE"/><polygon points="631.2,1077.96 641.02,1077.96 641.02,1081.79 638.21,1082.04 638.21,1084.97 641.02,1085.36 641.02,1091.73 637.58,1091.99 637.58,1094.54 634.39,1094.54 634.13,1091.73 628.01,1091.73 628.01,1082.04 631.2,1081.53" fill="#74C6BE"/><polygon points="756.2,940.46 761.94,940.46 761.94,943.39 759.13,943.78 759.13,946.58 756.2,946.58" fill="#74C6BE"/><polygon points="722.14,950.15 728.78,950.15 728.78,952.96 722.14,952.96" fill="#74C6BE"/><polygon points="805.94,947.22 809.77,947.22 809.77,950.15 805.94,950.15" fill="#74C6BE"/><polygon points="698.16,1105 701.99,1105 701.99,1107.93 698.16,1107.93" fill="#74C6BE"/><polygon points="668.19,1051.17 674.95,1051.17 674.95,1057.55 668.19,1057.55 668.19,1054.74 671.38,1054.36 671.38,1051.17" fill="#74C6BE"/><polygon points="644.85,1075.15 648.16,1075.15 648.16,1077.96 644.85,1077.96" fill="#74C6BE"/><polygon points="684,1150 692,1138 718,1138 737,1134 737,1177 684,1177" fill="#F7F7F7"/><polygon points="1595.28,900.56 1658.49,900.56 1659.24,906.51 1668.9,906.51 1668.9,916.18 1664.44,916.18 1664.44,928.08 1658.49,932.54 1628.74,932.54 1607.92,928.08 1607.92,908.74 1597.51,908.74 1595.28,907.26" fill="#F7F7F7"/><polygon points="1187.15,659.77 1206.81,659.77 1206.81,667 1187.15,667" fill="#D5E8D4"/><polygon points="1183.97,663.81 1189.81,663.81 1189.81,673.91 1183.97,673.91" fill="#D5E8D4"/><polygon points="1197.03,667 1200.96,667 1200.96,684 1194.06,684 1194.06,680.81 1189.81,680.81 1189.81,677.09 1197.03,677.09" fill="#D5E8D4"/><polygon points="1483.37,914.13 1496.75,914.13 1496.75,929.75 1487.83,929.75 1483.37,922.31" fill="#F7F7F7"/><polygon points="1472.95,923.06 1483.37,923.06 1483.37,929.75 1472.95,929.75" fill="#F7F7F7"/><polygon points="1469.98,935.7 1477.42,935.7 1477.42,946.11 1469.98,944.62" fill="#F7F7F7"/><polygon points="1604.59,957.27 1617.23,957.27 1617.23,973.63 1607.57,973.63 1604.59,969.91" fill="#F7F7F7"/><polygon points="904.08,366.94 911.09,366.94 911.09,361.2 914.28,361.2 914.28,370.76 911.09,371.4 911.09,373.95 907.27,373.95 907.27,371.4 904.08,370.76" fill="#F7F7F7"/><polygon points="928.05,350.36 930.85,350.36 930.85,353.55 928.05,353.55" fill="#E08214"/><polygon points="1904.08,1041.35 1927.68,1034.97 1927.68,1050.92 1918.11,1051.56 1917.47,1057.3 1909.18,1057.3 1907.27,1051.56 1898.98,1051.56 1898.98,1044.54" fill="#F7F7F7"/><polygon points="1928.32,1034.34 1941.71,1034.34 1941.71,1038.16 1944.9,1043.9 1944.9,1050.92 1934.69,1050.92 1934.69,1044.54 1928.32,1043.27" fill="#D5E8D4"/><polygon points="684.77,1130.21 700.01,1130.21 700.01,1178.83 688.51,1178.83 684.77,1176.02" fill="#D5E8D4"/></g><rect x="125" y="546.1" width="11" height="4.4" fill="#333333"/><rect x="125" y="920.8" width="11" height="4.4" fill="#333333"/><rect x="125" y="1295.5" width="11" height="4.4" fill="#333333"/><rect x="714.2" y="1314" width="4.4" height="11" fill="#333333"/><rect x="1462.8" y="1314" width="4.4" height="11" fill="#333333"/><rect x="2211.8" y="1314" width="4.4" height="11" fill="#333333"/><rect x="112" y="1498" width="59" height="59" fill="#EBEBEB"/><rect x="404" y="1498" width="59" height="59" fill="#EBEBEB"/><rect x="670.6" y="1498.9" width="56.7" height="56.7" fill="#E08214" stroke="#000" stroke-width="1.8"/><rect x="936.2" y="1498.9" width="56.7" height="56.7" fill="#FDB863" stroke="#000" stroke-width="1.8"/><rect x="1201.2" y="1498.9" width="56.7" height="56.7" fill="#F7F7F7" stroke="#000" stroke-width="1.8"/><rect x="1417.1" y="1498.9" width="56.7" height="56.7" fill="#D5E8D4" stroke="#000" stroke-width="1.8"/><rect x="1682.3" y="1498.9" width="56.7" height="56.7" fill="#74C6BE" stroke="#000" stroke-width="1.8"/><rect x="1946.3" y="1498" width="59" height="59" fill="#EBEBEB"/><rect x="2213.2" y="1498.9" width="56.7" height="56.7" fill="#01665E" stroke="#000" stroke-width="1.8"/></svg>
<div class="t" style="left:136.46px;top:63.76px;font-size:60.87px;transform:scaleX(1.1349);color:#000;font-weight:bold;">ECMWFS51 seasonal forecasts of total precipitation</div><div class="t" style="left:136.55px;top:141.82px;font-size:51.74px;transform:scaleX(1.1118);color:#000;">Probability of the most likely tercile category</div><div class="t" style="left:136.58px;top:195.95px;font-size:52.17px;transform:scaleX(1.1048);color:#000;">Nominal forecast start: 01/11/1993</div><div class="t" style="left:1555.20px;top:195.95px;font-size:52.17px;transform:scaleX(1.0635);color:#000;">Valid time: FEB 1994</div><div class="t" style="left:23.72px;top:529.02px;font-size:37.39px;transform:scaleX(1.0800);color:#4D4D4D;">46°N</div><div class="t" style="left:23.72px;top:904.12px;font-size:37.39px;transform:scaleX(1.0800);color:#4D4D4D;">45°N</div><div class="t" style="left:23.72px;top:1278.72px;font-size:37.39px;transform:scaleX(1.0800);color:#4D4D4D;">44°N</div><div class="t" style="left:684.72px;top:1328.92px;font-size:37.39px;transform:scaleX(1.0386);color:#4D4D4D;">8°E</div><div class="t" style="left:1420.27px;top:1328.92px;font-size:37.39px;transform:scaleX(1.0779);color:#4D4D4D;">10°E</div><div class="t" style="left:2169.26px;top:1328.92px;font-size:37.39px;transform:scaleX(1.0812);color:#4D4D4D;">12°E</div><div class="t" style="left:710.02px;top:1433.85px;font-size:44.06px;transform:scaleX(1.0887);color:#000;">&lt;--- below lower tercile</div><div class="t" style="left:1459.03px;top:1433.85px;font-size:44.06px;transform:scaleX(1.0865);color:#000;">above upper tercile ---&gt;</div><div class="t" style="left:194.70px;top:1504.45px;font-size:44.06px;transform:scaleX(1.0520);color:#000;">70-100%</div><div class="t" style="left:486.62px;top:1504.45px;font-size:44.06px;transform:scaleX(1.0403);color:#000;">60-70%</div><div class="t" style="left:751.52px;top:1504.45px;font-size:44.06px;transform:scaleX(1.0423);color:#000;">50-60%</div><div class="t" style="left:1017.56px;top:1504.45px;font-size:44.06px;transform:scaleX(1.0427);color:#000;">40-50%</div><div class="t" style="left:1282.09px;top:1504.45px;font-size:44.06px;transform:scaleX(1.1071);color:#000;">other</div><div class="t" style="left:1498.56px;top:1504.45px;font-size:44.06px;transform:scaleX(1.0447);color:#000;">40-50%</div><div class="t" style="left:1763.72px;top:1504.45px;font-size:44.06px;transform:scaleX(1.0403);color:#000;">50-60%</div><div class="t" style="left:2027.81px;top:1504.45px;font-size:44.06px;transform:scaleX(1.0470);color:#000;">60-70%</div><div class="t" style="left:2294.71px;top:1504.45px;font-size:44.06px;transform:scaleX(1.0434);color:#000;">70-100%</div>
</body></html>
